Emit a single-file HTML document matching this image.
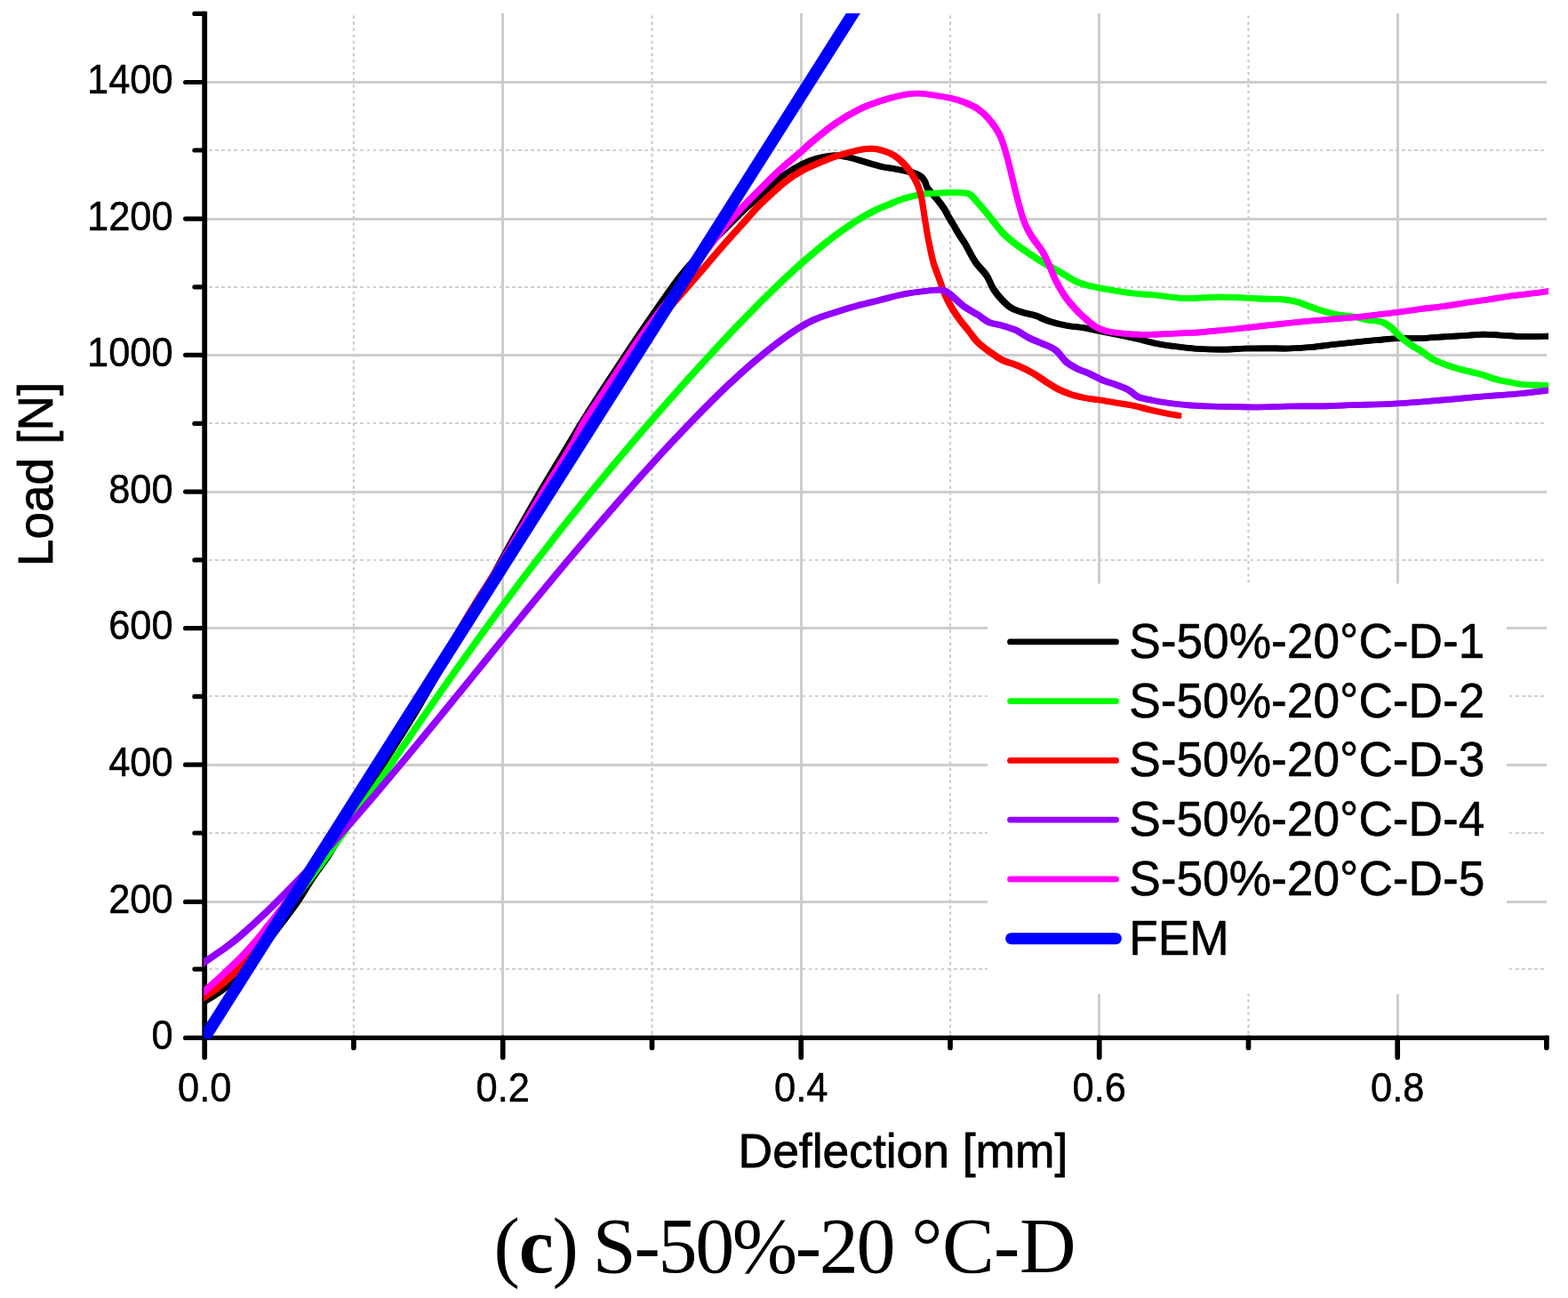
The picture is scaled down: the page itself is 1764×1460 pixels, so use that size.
<!DOCTYPE html>
<html lang="en"><head><meta charset="utf-8"><title>(c) S-50%-20 °C-D</title>
<style>
html,body{margin:0;padding:0;background:#fff;}
body{width:1764px;height:1460px;overflow:hidden;}
svg{display:block;}
.sans{font-family:"Liberation Sans",Arial,Helvetica,sans-serif;fill:#000;}
.serif{font-family:"Liberation Serif","Times New Roman",serif;fill:#000;}
</style></head><body>
<svg width="1764" height="1460" viewBox="0 0 1764 1460">
<rect x="0" y="0" width="1764" height="1460" fill="#ffffff"/>
<defs><clipPath id="plot"><rect x="229.0" y="15.0" width="1513.0" height="1153.5"/></clipPath></defs>
<g fill="none" stroke="#cdcdcd" shape-rendering="crispEdges">
<line x1="397.9" y1="17.5" x2="397.9" y2="1167.0" stroke-width="2.3" stroke-dasharray="3.4 3.65" stroke="#cecece" shape-rendering="auto"/>
<line x1="733.5" y1="17.5" x2="733.5" y2="1167.0" stroke-width="2.3" stroke-dasharray="3.4 3.65" stroke="#cecece" shape-rendering="auto"/>
<line x1="1069.0" y1="17.5" x2="1069.0" y2="1167.0" stroke-width="2.3" stroke-dasharray="3.4 3.65" stroke="#cecece" shape-rendering="auto"/>
<line x1="1404.5" y1="17.5" x2="1404.5" y2="1167.0" stroke-width="2.3" stroke-dasharray="3.4 3.65" stroke="#cecece" shape-rendering="auto"/>
<line x1="235.0" y1="1090.1" x2="1739.6" y2="1090.1" stroke-width="2.1" stroke-dasharray="3.8 3.3" stroke="#d0d0d0"/>
<line x1="235.0" y1="937.0" x2="1739.6" y2="937.0" stroke-width="2.1" stroke-dasharray="3.8 3.3" stroke="#d0d0d0"/>
<line x1="235.0" y1="783.4" x2="1739.6" y2="783.4" stroke-width="2.1" stroke-dasharray="3.8 3.3" stroke="#d0d0d0"/>
<line x1="235.0" y1="629.9" x2="1739.6" y2="629.9" stroke-width="2.1" stroke-dasharray="3.8 3.3" stroke="#d0d0d0"/>
<line x1="235.0" y1="476.4" x2="1739.6" y2="476.4" stroke-width="2.1" stroke-dasharray="3.8 3.3" stroke="#d0d0d0"/>
<line x1="235.0" y1="322.8" x2="1739.6" y2="322.8" stroke-width="2.1" stroke-dasharray="3.8 3.3" stroke="#d0d0d0"/>
<line x1="235.0" y1="169.0" x2="1739.6" y2="169.0" stroke-width="2.1" stroke-dasharray="3.8 3.3" stroke="#d0d0d0"/>
<line x1="565.7" y1="14.5" x2="565.7" y2="1167.0" stroke-width="3"/>
<line x1="901.2" y1="14.5" x2="901.2" y2="1167.0" stroke-width="3"/>
<line x1="1236.7" y1="14.5" x2="1236.7" y2="1167.0" stroke-width="3"/>
<line x1="1572.2" y1="14.5" x2="1572.2" y2="1167.0" stroke-width="3"/>
<line x1="232.0" y1="1014.4" x2="1739.6" y2="1014.4" stroke-width="3"/>
<line x1="232.0" y1="860.2" x2="1739.6" y2="860.2" stroke-width="3"/>
<line x1="232.0" y1="706.7" x2="1739.6" y2="706.7" stroke-width="3"/>
<line x1="232.0" y1="553.1" x2="1739.6" y2="553.1" stroke-width="3"/>
<line x1="232.0" y1="399.3" x2="1739.6" y2="399.3" stroke-width="3"/>
<line x1="232.0" y1="246.1" x2="1739.6" y2="246.1" stroke-width="3"/>
<line x1="232.0" y1="92.5" x2="1739.6" y2="92.5" stroke-width="3"/>
</g>
<rect x="1111" y="656.5" width="584" height="461.5" fill="#ffffff"/>
<g fill="none" stroke="#000" stroke-linecap="round">
<line x1="230.2" y1="1167.4" x2="230.2" y2="1189.2" stroke-width="5.7"/>
<line x1="397.9" y1="1167.4" x2="397.9" y2="1178.4" stroke-width="5.7"/>
<line x1="565.7" y1="1167.4" x2="565.7" y2="1189.2" stroke-width="5.7"/>
<line x1="733.5" y1="1167.4" x2="733.5" y2="1178.4" stroke-width="5.7"/>
<line x1="901.2" y1="1167.4" x2="901.2" y2="1189.2" stroke-width="5.7"/>
<line x1="1069.0" y1="1167.4" x2="1069.0" y2="1178.4" stroke-width="5.7"/>
<line x1="1236.7" y1="1167.4" x2="1236.7" y2="1189.2" stroke-width="5.7"/>
<line x1="1404.5" y1="1167.4" x2="1404.5" y2="1178.4" stroke-width="5.7"/>
<line x1="1572.2" y1="1167.4" x2="1572.2" y2="1189.2" stroke-width="5.7"/>
<line x1="1739.9" y1="1167.4" x2="1739.9" y2="1178.4" stroke-width="5.7"/>
<line x1="208.6" y1="1167.4" x2="230.2" y2="1167.4" stroke-width="5.2"/>
<line x1="218.9" y1="1090.1" x2="230.2" y2="1090.1" stroke-width="5.2"/>
<line x1="208.6" y1="1014.4" x2="230.2" y2="1014.4" stroke-width="5.2"/>
<line x1="218.9" y1="937.0" x2="230.2" y2="937.0" stroke-width="5.2"/>
<line x1="208.6" y1="860.2" x2="230.2" y2="860.2" stroke-width="5.2"/>
<line x1="218.9" y1="783.4" x2="230.2" y2="783.4" stroke-width="5.2"/>
<line x1="208.6" y1="706.7" x2="230.2" y2="706.7" stroke-width="5.2"/>
<line x1="218.9" y1="629.9" x2="230.2" y2="629.9" stroke-width="5.2"/>
<line x1="208.6" y1="553.1" x2="230.2" y2="553.1" stroke-width="5.2"/>
<line x1="218.9" y1="476.4" x2="230.2" y2="476.4" stroke-width="5.2"/>
<line x1="208.6" y1="399.3" x2="230.2" y2="399.3" stroke-width="5.2"/>
<line x1="218.9" y1="322.8" x2="230.2" y2="322.8" stroke-width="5.2"/>
<line x1="208.6" y1="246.1" x2="230.2" y2="246.1" stroke-width="5.2"/>
<line x1="218.9" y1="169.0" x2="230.2" y2="169.0" stroke-width="5.2"/>
<line x1="208.6" y1="92.5" x2="230.2" y2="92.5" stroke-width="5.2"/>
<line x1="218.9" y1="15.4" x2="230.2" y2="15.4" stroke-width="5.2"/>
</g>
<g fill="none" stroke="#000" stroke-linecap="butt">
<line x1="230.2" y1="12.8" x2="230.2" y2="1170" stroke-width="5.8"/>
<line x1="230.2" y1="1167.4" x2="1742.7" y2="1167.4" stroke-width="5.2"/>
</g>
<g clip-path="url(#plot)" fill="none" stroke-linejoin="round" stroke-linecap="round">
<g stroke="#000000" stroke-width="3.9">
<path transform="translate(-1.4 -1.4)" d="M226.0,1128.5C227.0,1128.0 228.0,1127.6 228.9,1127.0C234.5,1123.6 240.3,1120.4 245.7,1116.5C251.7,1112.2 257.5,1107.6 262.8,1102.5C270.6,1095.1 278.0,1087.2 285.0,1079.0C295.1,1067.1 304.4,1054.6 313.9,1042.2C320.9,1033.1 328.0,1023.9 334.5,1014.5C340.5,1005.7 345.7,996.3 351.6,987.4C357.8,978.1 364.9,969.5 370.8,960.0C387.7,932.7 403.3,904.5 420.0,877.0C435.7,851.2 452.5,825.9 468.0,800.0C483.8,773.6 498.7,746.7 514.0,720.0C521.7,706.7 529.5,693.4 537.0,680.0C547.2,661.8 556.8,643.2 567.0,625.0C580.4,601.1 593.9,577.2 607.7,553.5C618.2,535.5 629.1,517.8 639.8,500.0C644.5,492.1 649.1,484.1 654.0,476.2C661.5,464.1 669.2,452.0 677.0,440.0C687.9,423.3 698.9,406.6 710.0,390.0C719.5,375.8 729.2,361.6 739.0,347.5C747.8,334.9 756.4,322.1 766.0,310.0C773.5,300.6 781.7,291.8 790.0,283.0C798.1,274.4 806.7,266.3 815.0,258.0C821.7,251.3 828.2,244.5 835.0,238.0C840.9,232.4 847.0,227.1 853.0,221.6C858.0,217.1 862.8,212.3 868.0,208.0C873.1,203.8 878.3,199.7 883.8,196.0C889.8,192.0 896.0,188.2 902.5,185.0C908.1,182.2 913.9,179.7 920.0,178.1C926.5,176.3 933.2,175.0 940.0,174.8C945.1,174.6 950.1,175.8 955.0,177.0C963.4,179.0 971.7,181.8 980.0,184.2C984.3,185.4 988.5,186.8 992.8,187.7C997.1,188.6 1001.4,189.0 1005.7,189.8C1009.4,190.5 1013.1,191.2 1016.8,192.0C1020.5,192.8 1024.4,193.3 1028.0,194.5C1031.0,195.5 1034.0,196.8 1036.5,198.8C1038.4,200.3 1039.6,202.6 1040.8,204.8C1042.0,206.9 1042.1,209.5 1043.4,211.6C1044.8,213.8 1046.8,215.6 1048.5,217.6C1050.7,220.2 1053.2,222.6 1055.3,225.3C1057.7,228.4 1060.1,231.5 1062.2,234.8C1064.1,237.8 1065.5,241.1 1067.3,244.2C1069.0,247.1 1070.8,249.8 1072.5,252.7C1074.5,256.1 1076.4,259.6 1078.5,263.0C1080.7,266.5 1083.2,269.8 1085.3,273.3C1089.5,280.4 1092.9,288.1 1097.5,295.0C1101.1,300.4 1106.4,304.6 1110.0,310.0C1113.1,314.7 1114.5,320.3 1117.5,325.0C1120.4,329.5 1123.8,333.6 1127.5,337.5C1130.5,340.7 1133.7,343.9 1137.5,346.2C1141.3,348.6 1145.7,349.9 1150.0,351.2C1154.9,352.8 1160.1,353.4 1165.0,355.0C1170.1,356.7 1174.8,359.6 1180.0,361.2C1186.5,363.4 1193.2,365.0 1200.0,366.2C1206.6,367.5 1213.4,367.6 1220.0,368.8C1225.9,369.7 1231.7,371.3 1237.5,372.5C1245.8,374.2 1254.2,375.8 1262.5,377.5C1268.3,378.7 1274.2,379.9 1280.0,381.2C1286.7,382.8 1293.3,384.9 1300.0,386.2C1308.3,387.9 1316.6,389.0 1325.0,390.0C1333.3,391.0 1341.6,392.0 1350.0,392.5C1358.3,393.0 1366.7,393.3 1375.0,393.2C1383.3,393.2 1391.7,392.3 1400.0,392.0C1408.3,391.8 1416.7,391.8 1425.0,391.8C1433.3,391.8 1441.7,392.2 1450.0,392.0C1458.3,391.8 1466.7,391.2 1475.0,390.5C1483.4,389.7 1491.7,388.4 1500.0,387.5C1508.0,386.6 1516.0,385.8 1524.0,385.0C1532.3,384.1 1540.7,383.3 1549.0,382.5C1557.3,381.8 1565.6,380.8 1574.0,380.5C1582.3,380.2 1590.7,380.8 1599.0,380.5C1607.3,380.2 1615.7,379.3 1624.0,378.8C1632.3,378.3 1640.7,378.0 1649.0,377.5C1655.7,377.1 1662.3,376.3 1669.0,376.2C1674.8,376.2 1680.7,376.7 1686.5,377.0C1695.7,377.5 1704.8,378.3 1714.0,378.5C1724.7,378.7 1735.3,378.2 1746.0,378.0"/>
<path transform="translate(1.4 -1.4)" d="M226.0,1128.5C227.0,1128.0 228.0,1127.6 228.9,1127.0C234.5,1123.6 240.3,1120.4 245.7,1116.5C251.7,1112.2 257.5,1107.6 262.8,1102.5C270.6,1095.1 278.0,1087.2 285.0,1079.0C295.1,1067.1 304.4,1054.6 313.9,1042.2C320.9,1033.1 328.0,1023.9 334.5,1014.5C340.5,1005.7 345.7,996.3 351.6,987.4C357.8,978.1 364.9,969.5 370.8,960.0C387.7,932.7 403.3,904.5 420.0,877.0C435.7,851.2 452.5,825.9 468.0,800.0C483.8,773.6 498.7,746.7 514.0,720.0C521.7,706.7 529.5,693.4 537.0,680.0C547.2,661.8 556.8,643.2 567.0,625.0C580.4,601.1 593.9,577.2 607.7,553.5C618.2,535.5 629.1,517.8 639.8,500.0C644.5,492.1 649.1,484.1 654.0,476.2C661.5,464.1 669.2,452.0 677.0,440.0C687.9,423.3 698.9,406.6 710.0,390.0C719.5,375.8 729.2,361.6 739.0,347.5C747.8,334.9 756.4,322.1 766.0,310.0C773.5,300.6 781.7,291.8 790.0,283.0C798.1,274.4 806.7,266.3 815.0,258.0C821.7,251.3 828.2,244.5 835.0,238.0C840.9,232.4 847.0,227.1 853.0,221.6C858.0,217.1 862.8,212.3 868.0,208.0C873.1,203.8 878.3,199.7 883.8,196.0C889.8,192.0 896.0,188.2 902.5,185.0C908.1,182.2 913.9,179.7 920.0,178.1C926.5,176.3 933.2,175.0 940.0,174.8C945.1,174.6 950.1,175.8 955.0,177.0C963.4,179.0 971.7,181.8 980.0,184.2C984.3,185.4 988.5,186.8 992.8,187.7C997.1,188.6 1001.4,189.0 1005.7,189.8C1009.4,190.5 1013.1,191.2 1016.8,192.0C1020.5,192.8 1024.4,193.3 1028.0,194.5C1031.0,195.5 1034.0,196.8 1036.5,198.8C1038.4,200.3 1039.6,202.6 1040.8,204.8C1042.0,206.9 1042.1,209.5 1043.4,211.6C1044.8,213.8 1046.8,215.6 1048.5,217.6C1050.7,220.2 1053.2,222.6 1055.3,225.3C1057.7,228.4 1060.1,231.5 1062.2,234.8C1064.1,237.8 1065.5,241.1 1067.3,244.2C1069.0,247.1 1070.8,249.8 1072.5,252.7C1074.5,256.1 1076.4,259.6 1078.5,263.0C1080.7,266.5 1083.2,269.8 1085.3,273.3C1089.5,280.4 1092.9,288.1 1097.5,295.0C1101.1,300.4 1106.4,304.6 1110.0,310.0C1113.1,314.7 1114.5,320.3 1117.5,325.0C1120.4,329.5 1123.8,333.6 1127.5,337.5C1130.5,340.7 1133.7,343.9 1137.5,346.2C1141.3,348.6 1145.7,349.9 1150.0,351.2C1154.9,352.8 1160.1,353.4 1165.0,355.0C1170.1,356.7 1174.8,359.6 1180.0,361.2C1186.5,363.4 1193.2,365.0 1200.0,366.2C1206.6,367.5 1213.4,367.6 1220.0,368.8C1225.9,369.7 1231.7,371.3 1237.5,372.5C1245.8,374.2 1254.2,375.8 1262.5,377.5C1268.3,378.7 1274.2,379.9 1280.0,381.2C1286.7,382.8 1293.3,384.9 1300.0,386.2C1308.3,387.9 1316.6,389.0 1325.0,390.0C1333.3,391.0 1341.6,392.0 1350.0,392.5C1358.3,393.0 1366.7,393.3 1375.0,393.2C1383.3,393.2 1391.7,392.3 1400.0,392.0C1408.3,391.8 1416.7,391.8 1425.0,391.8C1433.3,391.8 1441.7,392.2 1450.0,392.0C1458.3,391.8 1466.7,391.2 1475.0,390.5C1483.4,389.7 1491.7,388.4 1500.0,387.5C1508.0,386.6 1516.0,385.8 1524.0,385.0C1532.3,384.1 1540.7,383.3 1549.0,382.5C1557.3,381.8 1565.6,380.8 1574.0,380.5C1582.3,380.2 1590.7,380.8 1599.0,380.5C1607.3,380.2 1615.7,379.3 1624.0,378.8C1632.3,378.3 1640.7,378.0 1649.0,377.5C1655.7,377.1 1662.3,376.3 1669.0,376.2C1674.8,376.2 1680.7,376.7 1686.5,377.0C1695.7,377.5 1704.8,378.3 1714.0,378.5C1724.7,378.7 1735.3,378.2 1746.0,378.0"/>
<path transform="translate(-1.4 1.4)" d="M226.0,1128.5C227.0,1128.0 228.0,1127.6 228.9,1127.0C234.5,1123.6 240.3,1120.4 245.7,1116.5C251.7,1112.2 257.5,1107.6 262.8,1102.5C270.6,1095.1 278.0,1087.2 285.0,1079.0C295.1,1067.1 304.4,1054.6 313.9,1042.2C320.9,1033.1 328.0,1023.9 334.5,1014.5C340.5,1005.7 345.7,996.3 351.6,987.4C357.8,978.1 364.9,969.5 370.8,960.0C387.7,932.7 403.3,904.5 420.0,877.0C435.7,851.2 452.5,825.9 468.0,800.0C483.8,773.6 498.7,746.7 514.0,720.0C521.7,706.7 529.5,693.4 537.0,680.0C547.2,661.8 556.8,643.2 567.0,625.0C580.4,601.1 593.9,577.2 607.7,553.5C618.2,535.5 629.1,517.8 639.8,500.0C644.5,492.1 649.1,484.1 654.0,476.2C661.5,464.1 669.2,452.0 677.0,440.0C687.9,423.3 698.9,406.6 710.0,390.0C719.5,375.8 729.2,361.6 739.0,347.5C747.8,334.9 756.4,322.1 766.0,310.0C773.5,300.6 781.7,291.8 790.0,283.0C798.1,274.4 806.7,266.3 815.0,258.0C821.7,251.3 828.2,244.5 835.0,238.0C840.9,232.4 847.0,227.1 853.0,221.6C858.0,217.1 862.8,212.3 868.0,208.0C873.1,203.8 878.3,199.7 883.8,196.0C889.8,192.0 896.0,188.2 902.5,185.0C908.1,182.2 913.9,179.7 920.0,178.1C926.5,176.3 933.2,175.0 940.0,174.8C945.1,174.6 950.1,175.8 955.0,177.0C963.4,179.0 971.7,181.8 980.0,184.2C984.3,185.4 988.5,186.8 992.8,187.7C997.1,188.6 1001.4,189.0 1005.7,189.8C1009.4,190.5 1013.1,191.2 1016.8,192.0C1020.5,192.8 1024.4,193.3 1028.0,194.5C1031.0,195.5 1034.0,196.8 1036.5,198.8C1038.4,200.3 1039.6,202.6 1040.8,204.8C1042.0,206.9 1042.1,209.5 1043.4,211.6C1044.8,213.8 1046.8,215.6 1048.5,217.6C1050.7,220.2 1053.2,222.6 1055.3,225.3C1057.7,228.4 1060.1,231.5 1062.2,234.8C1064.1,237.8 1065.5,241.1 1067.3,244.2C1069.0,247.1 1070.8,249.8 1072.5,252.7C1074.5,256.1 1076.4,259.6 1078.5,263.0C1080.7,266.5 1083.2,269.8 1085.3,273.3C1089.5,280.4 1092.9,288.1 1097.5,295.0C1101.1,300.4 1106.4,304.6 1110.0,310.0C1113.1,314.7 1114.5,320.3 1117.5,325.0C1120.4,329.5 1123.8,333.6 1127.5,337.5C1130.5,340.7 1133.7,343.9 1137.5,346.2C1141.3,348.6 1145.7,349.9 1150.0,351.2C1154.9,352.8 1160.1,353.4 1165.0,355.0C1170.1,356.7 1174.8,359.6 1180.0,361.2C1186.5,363.4 1193.2,365.0 1200.0,366.2C1206.6,367.5 1213.4,367.6 1220.0,368.8C1225.9,369.7 1231.7,371.3 1237.5,372.5C1245.8,374.2 1254.2,375.8 1262.5,377.5C1268.3,378.7 1274.2,379.9 1280.0,381.2C1286.7,382.8 1293.3,384.9 1300.0,386.2C1308.3,387.9 1316.6,389.0 1325.0,390.0C1333.3,391.0 1341.6,392.0 1350.0,392.5C1358.3,393.0 1366.7,393.3 1375.0,393.2C1383.3,393.2 1391.7,392.3 1400.0,392.0C1408.3,391.8 1416.7,391.8 1425.0,391.8C1433.3,391.8 1441.7,392.2 1450.0,392.0C1458.3,391.8 1466.7,391.2 1475.0,390.5C1483.4,389.7 1491.7,388.4 1500.0,387.5C1508.0,386.6 1516.0,385.8 1524.0,385.0C1532.3,384.1 1540.7,383.3 1549.0,382.5C1557.3,381.8 1565.6,380.8 1574.0,380.5C1582.3,380.2 1590.7,380.8 1599.0,380.5C1607.3,380.2 1615.7,379.3 1624.0,378.8C1632.3,378.3 1640.7,378.0 1649.0,377.5C1655.7,377.1 1662.3,376.3 1669.0,376.2C1674.8,376.2 1680.7,376.7 1686.5,377.0C1695.7,377.5 1704.8,378.3 1714.0,378.5C1724.7,378.7 1735.3,378.2 1746.0,378.0"/>
<path transform="translate(1.4 1.4)" d="M226.0,1128.5C227.0,1128.0 228.0,1127.6 228.9,1127.0C234.5,1123.6 240.3,1120.4 245.7,1116.5C251.7,1112.2 257.5,1107.6 262.8,1102.5C270.6,1095.1 278.0,1087.2 285.0,1079.0C295.1,1067.1 304.4,1054.6 313.9,1042.2C320.9,1033.1 328.0,1023.9 334.5,1014.5C340.5,1005.7 345.7,996.3 351.6,987.4C357.8,978.1 364.9,969.5 370.8,960.0C387.7,932.7 403.3,904.5 420.0,877.0C435.7,851.2 452.5,825.9 468.0,800.0C483.8,773.6 498.7,746.7 514.0,720.0C521.7,706.7 529.5,693.4 537.0,680.0C547.2,661.8 556.8,643.2 567.0,625.0C580.4,601.1 593.9,577.2 607.7,553.5C618.2,535.5 629.1,517.8 639.8,500.0C644.5,492.1 649.1,484.1 654.0,476.2C661.5,464.1 669.2,452.0 677.0,440.0C687.9,423.3 698.9,406.6 710.0,390.0C719.5,375.8 729.2,361.6 739.0,347.5C747.8,334.9 756.4,322.1 766.0,310.0C773.5,300.6 781.7,291.8 790.0,283.0C798.1,274.4 806.7,266.3 815.0,258.0C821.7,251.3 828.2,244.5 835.0,238.0C840.9,232.4 847.0,227.1 853.0,221.6C858.0,217.1 862.8,212.3 868.0,208.0C873.1,203.8 878.3,199.7 883.8,196.0C889.8,192.0 896.0,188.2 902.5,185.0C908.1,182.2 913.9,179.7 920.0,178.1C926.5,176.3 933.2,175.0 940.0,174.8C945.1,174.6 950.1,175.8 955.0,177.0C963.4,179.0 971.7,181.8 980.0,184.2C984.3,185.4 988.5,186.8 992.8,187.7C997.1,188.6 1001.4,189.0 1005.7,189.8C1009.4,190.5 1013.1,191.2 1016.8,192.0C1020.5,192.8 1024.4,193.3 1028.0,194.5C1031.0,195.5 1034.0,196.8 1036.5,198.8C1038.4,200.3 1039.6,202.6 1040.8,204.8C1042.0,206.9 1042.1,209.5 1043.4,211.6C1044.8,213.8 1046.8,215.6 1048.5,217.6C1050.7,220.2 1053.2,222.6 1055.3,225.3C1057.7,228.4 1060.1,231.5 1062.2,234.8C1064.1,237.8 1065.5,241.1 1067.3,244.2C1069.0,247.1 1070.8,249.8 1072.5,252.7C1074.5,256.1 1076.4,259.6 1078.5,263.0C1080.7,266.5 1083.2,269.8 1085.3,273.3C1089.5,280.4 1092.9,288.1 1097.5,295.0C1101.1,300.4 1106.4,304.6 1110.0,310.0C1113.1,314.7 1114.5,320.3 1117.5,325.0C1120.4,329.5 1123.8,333.6 1127.5,337.5C1130.5,340.7 1133.7,343.9 1137.5,346.2C1141.3,348.6 1145.7,349.9 1150.0,351.2C1154.9,352.8 1160.1,353.4 1165.0,355.0C1170.1,356.7 1174.8,359.6 1180.0,361.2C1186.5,363.4 1193.2,365.0 1200.0,366.2C1206.6,367.5 1213.4,367.6 1220.0,368.8C1225.9,369.7 1231.7,371.3 1237.5,372.5C1245.8,374.2 1254.2,375.8 1262.5,377.5C1268.3,378.7 1274.2,379.9 1280.0,381.2C1286.7,382.8 1293.3,384.9 1300.0,386.2C1308.3,387.9 1316.6,389.0 1325.0,390.0C1333.3,391.0 1341.6,392.0 1350.0,392.5C1358.3,393.0 1366.7,393.3 1375.0,393.2C1383.3,393.2 1391.7,392.3 1400.0,392.0C1408.3,391.8 1416.7,391.8 1425.0,391.8C1433.3,391.8 1441.7,392.2 1450.0,392.0C1458.3,391.8 1466.7,391.2 1475.0,390.5C1483.4,389.7 1491.7,388.4 1500.0,387.5C1508.0,386.6 1516.0,385.8 1524.0,385.0C1532.3,384.1 1540.7,383.3 1549.0,382.5C1557.3,381.8 1565.6,380.8 1574.0,380.5C1582.3,380.2 1590.7,380.8 1599.0,380.5C1607.3,380.2 1615.7,379.3 1624.0,378.8C1632.3,378.3 1640.7,378.0 1649.0,377.5C1655.7,377.1 1662.3,376.3 1669.0,376.2C1674.8,376.2 1680.7,376.7 1686.5,377.0C1695.7,377.5 1704.8,378.3 1714.0,378.5C1724.7,378.7 1735.3,378.2 1746.0,378.0"/>
</g>
<g stroke="#00ff00" stroke-width="3.9">
<path transform="translate(-1.4 -1.4)" d="M226.0,1123.0C227.0,1122.3 228.0,1121.7 229.0,1121.0C239.4,1113.4 250.4,1106.6 260.0,1098.0C270.9,1088.2 280.7,1077.3 290.0,1066.0C306.5,1045.8 321.5,1024.5 337.2,1003.7C345.5,992.7 354.0,981.7 362.2,970.6C370.7,959.1 379.0,947.5 387.2,935.8C395.6,923.9 403.9,911.9 412.2,899.9C420.6,887.8 428.9,875.6 437.2,863.5C445.5,851.3 453.8,839.1 462.2,826.9C470.5,814.8 478.8,802.7 487.2,790.6C495.5,778.6 503.8,766.7 512.2,754.8C520.5,743.1 528.8,731.4 537.2,719.8C545.5,708.3 553.8,696.9 562.2,685.5C570.5,674.3 578.8,663.1 587.2,652.0C595.5,641.1 603.8,630.3 612.2,619.5C620.5,608.9 628.8,598.2 637.2,587.7C645.5,577.3 653.8,567.0 662.2,556.7C670.5,546.6 678.8,536.5 687.2,526.5C695.5,516.6 703.8,506.7 712.2,496.9C720.5,487.2 728.8,477.6 737.2,468.0C745.5,458.5 753.8,449.0 762.2,439.6C770.5,430.3 778.8,421.1 787.2,411.9C795.5,402.8 803.8,393.8 812.2,384.8C820.5,376.0 828.8,367.3 837.2,358.6C845.5,350.1 853.8,341.6 862.2,333.3C870.4,325.2 878.7,317.1 887.2,309.3C895.4,301.7 903.7,294.2 912.2,287.0C920.4,280.0 928.6,273.2 937.2,266.7C945.3,260.6 953.6,254.7 962.2,249.2C969.7,244.4 977.5,240.0 985.5,236.0C990.2,233.6 995.2,232.0 1000.0,230.0C1005.4,227.8 1010.7,225.1 1016.3,223.4C1023.0,221.3 1029.9,219.8 1036.8,218.6C1040.7,217.9 1044.6,217.9 1048.5,217.6C1052.8,217.3 1057.0,217.0 1061.3,216.8C1065.6,216.6 1069.9,216.6 1074.2,216.6C1077.0,216.6 1079.9,216.6 1082.7,216.8C1084.7,216.9 1086.8,217.0 1088.7,217.6C1090.3,218.1 1091.8,219.1 1093.0,220.2C1095.5,222.5 1097.6,225.3 1099.9,227.9C1102.2,230.5 1104.5,233.0 1106.7,235.6C1109.1,238.4 1111.3,241.3 1113.6,244.2C1115.9,247.0 1118.1,249.9 1120.4,252.7C1123.5,256.5 1126.5,260.4 1130.0,263.9C1133.1,267.0 1136.5,269.8 1140.0,272.5C1145.7,276.9 1151.6,281.0 1157.5,285.0C1163.2,288.9 1169.1,292.7 1175.0,296.2C1181.6,300.2 1188.3,303.7 1195.0,307.5C1200.8,310.8 1206.3,314.9 1212.5,317.5C1218.1,319.9 1224.1,321.1 1230.0,322.5C1236.6,324.0 1243.3,325.1 1250.0,326.2C1258.3,327.6 1266.6,329.0 1275.0,330.0C1283.3,331.0 1291.7,331.2 1300.0,332.0C1310.0,333.0 1320.0,334.9 1330.0,335.5C1336.7,335.9 1343.3,335.2 1350.0,335.0C1358.0,334.8 1366.0,334.2 1374.0,334.2C1382.3,334.2 1390.7,334.7 1399.0,335.0C1407.3,335.3 1415.7,335.9 1424.0,336.2C1430.7,336.5 1437.4,336.1 1444.0,336.8C1449.1,337.2 1454.1,338.2 1459.0,339.5C1464.1,340.9 1469.0,343.2 1474.0,345.0C1479.0,346.7 1483.9,348.5 1489.0,350.0C1493.9,351.4 1498.9,352.8 1504.0,353.8C1510.6,354.9 1517.4,355.1 1524.0,356.2C1529.1,357.2 1533.9,359.0 1539.0,360.0C1544.0,360.9 1549.2,360.6 1554.0,362.0C1557.6,363.1 1561.0,365.2 1564.0,367.5C1567.7,370.4 1570.5,374.4 1574.0,377.5C1578.0,381.0 1582.1,384.4 1586.5,387.5C1590.5,390.3 1594.9,392.4 1599.0,395.0C1604.1,398.2 1608.7,402.2 1614.0,405.0C1619.6,407.9 1625.6,410.0 1631.5,412.0C1637.2,414.0 1643.1,415.4 1649.0,417.0C1654.8,418.5 1660.7,419.6 1666.5,421.2C1672.4,422.9 1678.1,425.4 1684.0,427.0C1688.9,428.3 1694.0,429.1 1699.0,430.0C1704.0,430.9 1709.0,432.0 1714.0,432.5C1719.0,433.0 1724.0,433.1 1729.0,433.2C1734.7,433.4 1740.3,433.2 1746.0,433.2"/>
<path transform="translate(1.4 -1.4)" d="M226.0,1123.0C227.0,1122.3 228.0,1121.7 229.0,1121.0C239.4,1113.4 250.4,1106.6 260.0,1098.0C270.9,1088.2 280.7,1077.3 290.0,1066.0C306.5,1045.8 321.5,1024.5 337.2,1003.7C345.5,992.7 354.0,981.7 362.2,970.6C370.7,959.1 379.0,947.5 387.2,935.8C395.6,923.9 403.9,911.9 412.2,899.9C420.6,887.8 428.9,875.6 437.2,863.5C445.5,851.3 453.8,839.1 462.2,826.9C470.5,814.8 478.8,802.7 487.2,790.6C495.5,778.6 503.8,766.7 512.2,754.8C520.5,743.1 528.8,731.4 537.2,719.8C545.5,708.3 553.8,696.9 562.2,685.5C570.5,674.3 578.8,663.1 587.2,652.0C595.5,641.1 603.8,630.3 612.2,619.5C620.5,608.9 628.8,598.2 637.2,587.7C645.5,577.3 653.8,567.0 662.2,556.7C670.5,546.6 678.8,536.5 687.2,526.5C695.5,516.6 703.8,506.7 712.2,496.9C720.5,487.2 728.8,477.6 737.2,468.0C745.5,458.5 753.8,449.0 762.2,439.6C770.5,430.3 778.8,421.1 787.2,411.9C795.5,402.8 803.8,393.8 812.2,384.8C820.5,376.0 828.8,367.3 837.2,358.6C845.5,350.1 853.8,341.6 862.2,333.3C870.4,325.2 878.7,317.1 887.2,309.3C895.4,301.7 903.7,294.2 912.2,287.0C920.4,280.0 928.6,273.2 937.2,266.7C945.3,260.6 953.6,254.7 962.2,249.2C969.7,244.4 977.5,240.0 985.5,236.0C990.2,233.6 995.2,232.0 1000.0,230.0C1005.4,227.8 1010.7,225.1 1016.3,223.4C1023.0,221.3 1029.9,219.8 1036.8,218.6C1040.7,217.9 1044.6,217.9 1048.5,217.6C1052.8,217.3 1057.0,217.0 1061.3,216.8C1065.6,216.6 1069.9,216.6 1074.2,216.6C1077.0,216.6 1079.9,216.6 1082.7,216.8C1084.7,216.9 1086.8,217.0 1088.7,217.6C1090.3,218.1 1091.8,219.1 1093.0,220.2C1095.5,222.5 1097.6,225.3 1099.9,227.9C1102.2,230.5 1104.5,233.0 1106.7,235.6C1109.1,238.4 1111.3,241.3 1113.6,244.2C1115.9,247.0 1118.1,249.9 1120.4,252.7C1123.5,256.5 1126.5,260.4 1130.0,263.9C1133.1,267.0 1136.5,269.8 1140.0,272.5C1145.7,276.9 1151.6,281.0 1157.5,285.0C1163.2,288.9 1169.1,292.7 1175.0,296.2C1181.6,300.2 1188.3,303.7 1195.0,307.5C1200.8,310.8 1206.3,314.9 1212.5,317.5C1218.1,319.9 1224.1,321.1 1230.0,322.5C1236.6,324.0 1243.3,325.1 1250.0,326.2C1258.3,327.6 1266.6,329.0 1275.0,330.0C1283.3,331.0 1291.7,331.2 1300.0,332.0C1310.0,333.0 1320.0,334.9 1330.0,335.5C1336.7,335.9 1343.3,335.2 1350.0,335.0C1358.0,334.8 1366.0,334.2 1374.0,334.2C1382.3,334.2 1390.7,334.7 1399.0,335.0C1407.3,335.3 1415.7,335.9 1424.0,336.2C1430.7,336.5 1437.4,336.1 1444.0,336.8C1449.1,337.2 1454.1,338.2 1459.0,339.5C1464.1,340.9 1469.0,343.2 1474.0,345.0C1479.0,346.7 1483.9,348.5 1489.0,350.0C1493.9,351.4 1498.9,352.8 1504.0,353.8C1510.6,354.9 1517.4,355.1 1524.0,356.2C1529.1,357.2 1533.9,359.0 1539.0,360.0C1544.0,360.9 1549.2,360.6 1554.0,362.0C1557.6,363.1 1561.0,365.2 1564.0,367.5C1567.7,370.4 1570.5,374.4 1574.0,377.5C1578.0,381.0 1582.1,384.4 1586.5,387.5C1590.5,390.3 1594.9,392.4 1599.0,395.0C1604.1,398.2 1608.7,402.2 1614.0,405.0C1619.6,407.9 1625.6,410.0 1631.5,412.0C1637.2,414.0 1643.1,415.4 1649.0,417.0C1654.8,418.5 1660.7,419.6 1666.5,421.2C1672.4,422.9 1678.1,425.4 1684.0,427.0C1688.9,428.3 1694.0,429.1 1699.0,430.0C1704.0,430.9 1709.0,432.0 1714.0,432.5C1719.0,433.0 1724.0,433.1 1729.0,433.2C1734.7,433.4 1740.3,433.2 1746.0,433.2"/>
<path transform="translate(-1.4 1.4)" d="M226.0,1123.0C227.0,1122.3 228.0,1121.7 229.0,1121.0C239.4,1113.4 250.4,1106.6 260.0,1098.0C270.9,1088.2 280.7,1077.3 290.0,1066.0C306.5,1045.8 321.5,1024.5 337.2,1003.7C345.5,992.7 354.0,981.7 362.2,970.6C370.7,959.1 379.0,947.5 387.2,935.8C395.6,923.9 403.9,911.9 412.2,899.9C420.6,887.8 428.9,875.6 437.2,863.5C445.5,851.3 453.8,839.1 462.2,826.9C470.5,814.8 478.8,802.7 487.2,790.6C495.5,778.6 503.8,766.7 512.2,754.8C520.5,743.1 528.8,731.4 537.2,719.8C545.5,708.3 553.8,696.9 562.2,685.5C570.5,674.3 578.8,663.1 587.2,652.0C595.5,641.1 603.8,630.3 612.2,619.5C620.5,608.9 628.8,598.2 637.2,587.7C645.5,577.3 653.8,567.0 662.2,556.7C670.5,546.6 678.8,536.5 687.2,526.5C695.5,516.6 703.8,506.7 712.2,496.9C720.5,487.2 728.8,477.6 737.2,468.0C745.5,458.5 753.8,449.0 762.2,439.6C770.5,430.3 778.8,421.1 787.2,411.9C795.5,402.8 803.8,393.8 812.2,384.8C820.5,376.0 828.8,367.3 837.2,358.6C845.5,350.1 853.8,341.6 862.2,333.3C870.4,325.2 878.7,317.1 887.2,309.3C895.4,301.7 903.7,294.2 912.2,287.0C920.4,280.0 928.6,273.2 937.2,266.7C945.3,260.6 953.6,254.7 962.2,249.2C969.7,244.4 977.5,240.0 985.5,236.0C990.2,233.6 995.2,232.0 1000.0,230.0C1005.4,227.8 1010.7,225.1 1016.3,223.4C1023.0,221.3 1029.9,219.8 1036.8,218.6C1040.7,217.9 1044.6,217.9 1048.5,217.6C1052.8,217.3 1057.0,217.0 1061.3,216.8C1065.6,216.6 1069.9,216.6 1074.2,216.6C1077.0,216.6 1079.9,216.6 1082.7,216.8C1084.7,216.9 1086.8,217.0 1088.7,217.6C1090.3,218.1 1091.8,219.1 1093.0,220.2C1095.5,222.5 1097.6,225.3 1099.9,227.9C1102.2,230.5 1104.5,233.0 1106.7,235.6C1109.1,238.4 1111.3,241.3 1113.6,244.2C1115.9,247.0 1118.1,249.9 1120.4,252.7C1123.5,256.5 1126.5,260.4 1130.0,263.9C1133.1,267.0 1136.5,269.8 1140.0,272.5C1145.7,276.9 1151.6,281.0 1157.5,285.0C1163.2,288.9 1169.1,292.7 1175.0,296.2C1181.6,300.2 1188.3,303.7 1195.0,307.5C1200.8,310.8 1206.3,314.9 1212.5,317.5C1218.1,319.9 1224.1,321.1 1230.0,322.5C1236.6,324.0 1243.3,325.1 1250.0,326.2C1258.3,327.6 1266.6,329.0 1275.0,330.0C1283.3,331.0 1291.7,331.2 1300.0,332.0C1310.0,333.0 1320.0,334.9 1330.0,335.5C1336.7,335.9 1343.3,335.2 1350.0,335.0C1358.0,334.8 1366.0,334.2 1374.0,334.2C1382.3,334.2 1390.7,334.7 1399.0,335.0C1407.3,335.3 1415.7,335.9 1424.0,336.2C1430.7,336.5 1437.4,336.1 1444.0,336.8C1449.1,337.2 1454.1,338.2 1459.0,339.5C1464.1,340.9 1469.0,343.2 1474.0,345.0C1479.0,346.7 1483.9,348.5 1489.0,350.0C1493.9,351.4 1498.9,352.8 1504.0,353.8C1510.6,354.9 1517.4,355.1 1524.0,356.2C1529.1,357.2 1533.9,359.0 1539.0,360.0C1544.0,360.9 1549.2,360.6 1554.0,362.0C1557.6,363.1 1561.0,365.2 1564.0,367.5C1567.7,370.4 1570.5,374.4 1574.0,377.5C1578.0,381.0 1582.1,384.4 1586.5,387.5C1590.5,390.3 1594.9,392.4 1599.0,395.0C1604.1,398.2 1608.7,402.2 1614.0,405.0C1619.6,407.9 1625.6,410.0 1631.5,412.0C1637.2,414.0 1643.1,415.4 1649.0,417.0C1654.8,418.5 1660.7,419.6 1666.5,421.2C1672.4,422.9 1678.1,425.4 1684.0,427.0C1688.9,428.3 1694.0,429.1 1699.0,430.0C1704.0,430.9 1709.0,432.0 1714.0,432.5C1719.0,433.0 1724.0,433.1 1729.0,433.2C1734.7,433.4 1740.3,433.2 1746.0,433.2"/>
<path transform="translate(1.4 1.4)" d="M226.0,1123.0C227.0,1122.3 228.0,1121.7 229.0,1121.0C239.4,1113.4 250.4,1106.6 260.0,1098.0C270.9,1088.2 280.7,1077.3 290.0,1066.0C306.5,1045.8 321.5,1024.5 337.2,1003.7C345.5,992.7 354.0,981.7 362.2,970.6C370.7,959.1 379.0,947.5 387.2,935.8C395.6,923.9 403.9,911.9 412.2,899.9C420.6,887.8 428.9,875.6 437.2,863.5C445.5,851.3 453.8,839.1 462.2,826.9C470.5,814.8 478.8,802.7 487.2,790.6C495.5,778.6 503.8,766.7 512.2,754.8C520.5,743.1 528.8,731.4 537.2,719.8C545.5,708.3 553.8,696.9 562.2,685.5C570.5,674.3 578.8,663.1 587.2,652.0C595.5,641.1 603.8,630.3 612.2,619.5C620.5,608.9 628.8,598.2 637.2,587.7C645.5,577.3 653.8,567.0 662.2,556.7C670.5,546.6 678.8,536.5 687.2,526.5C695.5,516.6 703.8,506.7 712.2,496.9C720.5,487.2 728.8,477.6 737.2,468.0C745.5,458.5 753.8,449.0 762.2,439.6C770.5,430.3 778.8,421.1 787.2,411.9C795.5,402.8 803.8,393.8 812.2,384.8C820.5,376.0 828.8,367.3 837.2,358.6C845.5,350.1 853.8,341.6 862.2,333.3C870.4,325.2 878.7,317.1 887.2,309.3C895.4,301.7 903.7,294.2 912.2,287.0C920.4,280.0 928.6,273.2 937.2,266.7C945.3,260.6 953.6,254.7 962.2,249.2C969.7,244.4 977.5,240.0 985.5,236.0C990.2,233.6 995.2,232.0 1000.0,230.0C1005.4,227.8 1010.7,225.1 1016.3,223.4C1023.0,221.3 1029.9,219.8 1036.8,218.6C1040.7,217.9 1044.6,217.9 1048.5,217.6C1052.8,217.3 1057.0,217.0 1061.3,216.8C1065.6,216.6 1069.9,216.6 1074.2,216.6C1077.0,216.6 1079.9,216.6 1082.7,216.8C1084.7,216.9 1086.8,217.0 1088.7,217.6C1090.3,218.1 1091.8,219.1 1093.0,220.2C1095.5,222.5 1097.6,225.3 1099.9,227.9C1102.2,230.5 1104.5,233.0 1106.7,235.6C1109.1,238.4 1111.3,241.3 1113.6,244.2C1115.9,247.0 1118.1,249.9 1120.4,252.7C1123.5,256.5 1126.5,260.4 1130.0,263.9C1133.1,267.0 1136.5,269.8 1140.0,272.5C1145.7,276.9 1151.6,281.0 1157.5,285.0C1163.2,288.9 1169.1,292.7 1175.0,296.2C1181.6,300.2 1188.3,303.7 1195.0,307.5C1200.8,310.8 1206.3,314.9 1212.5,317.5C1218.1,319.9 1224.1,321.1 1230.0,322.5C1236.6,324.0 1243.3,325.1 1250.0,326.2C1258.3,327.6 1266.6,329.0 1275.0,330.0C1283.3,331.0 1291.7,331.2 1300.0,332.0C1310.0,333.0 1320.0,334.9 1330.0,335.5C1336.7,335.9 1343.3,335.2 1350.0,335.0C1358.0,334.8 1366.0,334.2 1374.0,334.2C1382.3,334.2 1390.7,334.7 1399.0,335.0C1407.3,335.3 1415.7,335.9 1424.0,336.2C1430.7,336.5 1437.4,336.1 1444.0,336.8C1449.1,337.2 1454.1,338.2 1459.0,339.5C1464.1,340.9 1469.0,343.2 1474.0,345.0C1479.0,346.7 1483.9,348.5 1489.0,350.0C1493.9,351.4 1498.9,352.8 1504.0,353.8C1510.6,354.9 1517.4,355.1 1524.0,356.2C1529.1,357.2 1533.9,359.0 1539.0,360.0C1544.0,360.9 1549.2,360.6 1554.0,362.0C1557.6,363.1 1561.0,365.2 1564.0,367.5C1567.7,370.4 1570.5,374.4 1574.0,377.5C1578.0,381.0 1582.1,384.4 1586.5,387.5C1590.5,390.3 1594.9,392.4 1599.0,395.0C1604.1,398.2 1608.7,402.2 1614.0,405.0C1619.6,407.9 1625.6,410.0 1631.5,412.0C1637.2,414.0 1643.1,415.4 1649.0,417.0C1654.8,418.5 1660.7,419.6 1666.5,421.2C1672.4,422.9 1678.1,425.4 1684.0,427.0C1688.9,428.3 1694.0,429.1 1699.0,430.0C1704.0,430.9 1709.0,432.0 1714.0,432.5C1719.0,433.0 1724.0,433.1 1729.0,433.2C1734.7,433.4 1740.3,433.2 1746.0,433.2"/>
</g>
<g stroke="#ff0000" stroke-width="3.9">
<path transform="translate(-1.4 -1.4)" d="M226.0,1124.0C227.0,1123.3 228.0,1122.7 229.0,1122.0C234.3,1118.3 239.9,1115.0 245.0,1111.0C250.9,1106.3 256.5,1101.2 262.0,1096.0C268.2,1090.2 274.4,1084.4 280.0,1078.0C287.1,1070.0 293.7,1061.6 300.0,1053.0C310.4,1038.9 320.4,1024.6 330.0,1010.0C353.8,973.6 376.7,936.7 400.0,900.0C423.3,863.3 447.4,827.1 470.0,790.0C490.1,757.1 508.3,723.1 528.0,690.0C538.1,673.1 548.9,656.6 559.5,640.0C589.5,593.2 619.6,546.5 650.0,500.0C671.8,466.5 694.3,433.5 716.0,400.0C723.6,388.2 729.9,375.5 738.0,364.0C743.6,356.0 750.5,349.0 756.9,341.6C762.4,335.2 768.1,328.9 773.6,322.5C780.3,314.8 786.9,307.2 793.5,299.5C800.2,291.7 806.7,283.8 813.5,276.1C822.3,266.1 831.4,256.2 840.3,246.3C845.0,241.0 849.5,235.6 854.5,230.5C859.3,225.6 864.4,221.1 869.5,216.5C874.4,212.1 879.2,207.5 884.5,203.5C890.1,199.3 895.9,195.6 902.0,192.2C907.8,189.0 913.9,186.4 920.0,183.8C926.6,181.0 933.2,178.2 940.0,176.0C948.2,173.3 956.6,170.9 965.0,169.0C969.9,167.9 975.0,167.0 980.0,167.1C984.3,167.1 988.7,168.1 992.8,169.3C997.3,170.6 1001.7,172.4 1005.7,174.8C1009.5,177.1 1012.8,180.2 1016.0,183.4C1019.1,186.6 1022.0,190.0 1024.5,193.7C1027.1,197.5 1029.5,201.5 1031.4,205.7C1033.3,209.8 1034.5,214.1 1035.7,218.5C1036.8,222.7 1037.5,227.0 1038.2,231.3C1039.0,236.2 1039.6,241.0 1040.4,245.9C1041.2,251.0 1042.0,256.2 1042.9,261.3C1043.7,265.9 1044.5,270.5 1045.5,275.0C1046.9,281.7 1048.1,288.4 1050.0,295.0C1051.7,301.0 1054.2,306.7 1056.2,312.5C1058.3,318.3 1060.1,324.3 1062.5,330.0C1064.7,335.1 1067.2,340.2 1070.0,345.0C1073.0,350.2 1076.5,355.1 1080.0,360.0C1083.1,364.3 1086.7,368.3 1090.0,372.5C1093.3,376.7 1096.2,381.2 1100.0,385.0C1103.8,388.8 1108.2,391.9 1112.5,395.0C1117.4,398.5 1122.1,402.3 1127.5,405.0C1133.0,407.8 1139.3,408.8 1145.0,411.2C1151.0,413.8 1156.9,416.7 1162.5,420.0C1167.7,423.0 1172.4,426.8 1177.5,430.0C1181.6,432.6 1185.7,435.3 1190.0,437.5C1194.8,439.9 1199.9,442.0 1205.0,443.8C1209.9,445.4 1214.9,446.5 1220.0,447.5C1225.8,448.6 1231.7,449.1 1237.5,450.0C1243.3,450.9 1249.2,452.0 1255.0,453.0C1261.7,454.1 1268.4,454.9 1275.0,456.2C1281.7,457.6 1288.3,459.7 1295.0,461.2C1300.8,462.6 1306.7,463.8 1312.5,465.0C1317.1,465.9 1321.7,466.7 1326.2,467.5"/>
<path transform="translate(1.4 -1.4)" d="M226.0,1124.0C227.0,1123.3 228.0,1122.7 229.0,1122.0C234.3,1118.3 239.9,1115.0 245.0,1111.0C250.9,1106.3 256.5,1101.2 262.0,1096.0C268.2,1090.2 274.4,1084.4 280.0,1078.0C287.1,1070.0 293.7,1061.6 300.0,1053.0C310.4,1038.9 320.4,1024.6 330.0,1010.0C353.8,973.6 376.7,936.7 400.0,900.0C423.3,863.3 447.4,827.1 470.0,790.0C490.1,757.1 508.3,723.1 528.0,690.0C538.1,673.1 548.9,656.6 559.5,640.0C589.5,593.2 619.6,546.5 650.0,500.0C671.8,466.5 694.3,433.5 716.0,400.0C723.6,388.2 729.9,375.5 738.0,364.0C743.6,356.0 750.5,349.0 756.9,341.6C762.4,335.2 768.1,328.9 773.6,322.5C780.3,314.8 786.9,307.2 793.5,299.5C800.2,291.7 806.7,283.8 813.5,276.1C822.3,266.1 831.4,256.2 840.3,246.3C845.0,241.0 849.5,235.6 854.5,230.5C859.3,225.6 864.4,221.1 869.5,216.5C874.4,212.1 879.2,207.5 884.5,203.5C890.1,199.3 895.9,195.6 902.0,192.2C907.8,189.0 913.9,186.4 920.0,183.8C926.6,181.0 933.2,178.2 940.0,176.0C948.2,173.3 956.6,170.9 965.0,169.0C969.9,167.9 975.0,167.0 980.0,167.1C984.3,167.1 988.7,168.1 992.8,169.3C997.3,170.6 1001.7,172.4 1005.7,174.8C1009.5,177.1 1012.8,180.2 1016.0,183.4C1019.1,186.6 1022.0,190.0 1024.5,193.7C1027.1,197.5 1029.5,201.5 1031.4,205.7C1033.3,209.8 1034.5,214.1 1035.7,218.5C1036.8,222.7 1037.5,227.0 1038.2,231.3C1039.0,236.2 1039.6,241.0 1040.4,245.9C1041.2,251.0 1042.0,256.2 1042.9,261.3C1043.7,265.9 1044.5,270.5 1045.5,275.0C1046.9,281.7 1048.1,288.4 1050.0,295.0C1051.7,301.0 1054.2,306.7 1056.2,312.5C1058.3,318.3 1060.1,324.3 1062.5,330.0C1064.7,335.1 1067.2,340.2 1070.0,345.0C1073.0,350.2 1076.5,355.1 1080.0,360.0C1083.1,364.3 1086.7,368.3 1090.0,372.5C1093.3,376.7 1096.2,381.2 1100.0,385.0C1103.8,388.8 1108.2,391.9 1112.5,395.0C1117.4,398.5 1122.1,402.3 1127.5,405.0C1133.0,407.8 1139.3,408.8 1145.0,411.2C1151.0,413.8 1156.9,416.7 1162.5,420.0C1167.7,423.0 1172.4,426.8 1177.5,430.0C1181.6,432.6 1185.7,435.3 1190.0,437.5C1194.8,439.9 1199.9,442.0 1205.0,443.8C1209.9,445.4 1214.9,446.5 1220.0,447.5C1225.8,448.6 1231.7,449.1 1237.5,450.0C1243.3,450.9 1249.2,452.0 1255.0,453.0C1261.7,454.1 1268.4,454.9 1275.0,456.2C1281.7,457.6 1288.3,459.7 1295.0,461.2C1300.8,462.6 1306.7,463.8 1312.5,465.0C1317.1,465.9 1321.7,466.7 1326.2,467.5"/>
<path transform="translate(-1.4 1.4)" d="M226.0,1124.0C227.0,1123.3 228.0,1122.7 229.0,1122.0C234.3,1118.3 239.9,1115.0 245.0,1111.0C250.9,1106.3 256.5,1101.2 262.0,1096.0C268.2,1090.2 274.4,1084.4 280.0,1078.0C287.1,1070.0 293.7,1061.6 300.0,1053.0C310.4,1038.9 320.4,1024.6 330.0,1010.0C353.8,973.6 376.7,936.7 400.0,900.0C423.3,863.3 447.4,827.1 470.0,790.0C490.1,757.1 508.3,723.1 528.0,690.0C538.1,673.1 548.9,656.6 559.5,640.0C589.5,593.2 619.6,546.5 650.0,500.0C671.8,466.5 694.3,433.5 716.0,400.0C723.6,388.2 729.9,375.5 738.0,364.0C743.6,356.0 750.5,349.0 756.9,341.6C762.4,335.2 768.1,328.9 773.6,322.5C780.3,314.8 786.9,307.2 793.5,299.5C800.2,291.7 806.7,283.8 813.5,276.1C822.3,266.1 831.4,256.2 840.3,246.3C845.0,241.0 849.5,235.6 854.5,230.5C859.3,225.6 864.4,221.1 869.5,216.5C874.4,212.1 879.2,207.5 884.5,203.5C890.1,199.3 895.9,195.6 902.0,192.2C907.8,189.0 913.9,186.4 920.0,183.8C926.6,181.0 933.2,178.2 940.0,176.0C948.2,173.3 956.6,170.9 965.0,169.0C969.9,167.9 975.0,167.0 980.0,167.1C984.3,167.1 988.7,168.1 992.8,169.3C997.3,170.6 1001.7,172.4 1005.7,174.8C1009.5,177.1 1012.8,180.2 1016.0,183.4C1019.1,186.6 1022.0,190.0 1024.5,193.7C1027.1,197.5 1029.5,201.5 1031.4,205.7C1033.3,209.8 1034.5,214.1 1035.7,218.5C1036.8,222.7 1037.5,227.0 1038.2,231.3C1039.0,236.2 1039.6,241.0 1040.4,245.9C1041.2,251.0 1042.0,256.2 1042.9,261.3C1043.7,265.9 1044.5,270.5 1045.5,275.0C1046.9,281.7 1048.1,288.4 1050.0,295.0C1051.7,301.0 1054.2,306.7 1056.2,312.5C1058.3,318.3 1060.1,324.3 1062.5,330.0C1064.7,335.1 1067.2,340.2 1070.0,345.0C1073.0,350.2 1076.5,355.1 1080.0,360.0C1083.1,364.3 1086.7,368.3 1090.0,372.5C1093.3,376.7 1096.2,381.2 1100.0,385.0C1103.8,388.8 1108.2,391.9 1112.5,395.0C1117.4,398.5 1122.1,402.3 1127.5,405.0C1133.0,407.8 1139.3,408.8 1145.0,411.2C1151.0,413.8 1156.9,416.7 1162.5,420.0C1167.7,423.0 1172.4,426.8 1177.5,430.0C1181.6,432.6 1185.7,435.3 1190.0,437.5C1194.8,439.9 1199.9,442.0 1205.0,443.8C1209.9,445.4 1214.9,446.5 1220.0,447.5C1225.8,448.6 1231.7,449.1 1237.5,450.0C1243.3,450.9 1249.2,452.0 1255.0,453.0C1261.7,454.1 1268.4,454.9 1275.0,456.2C1281.7,457.6 1288.3,459.7 1295.0,461.2C1300.8,462.6 1306.7,463.8 1312.5,465.0C1317.1,465.9 1321.7,466.7 1326.2,467.5"/>
<path transform="translate(1.4 1.4)" d="M226.0,1124.0C227.0,1123.3 228.0,1122.7 229.0,1122.0C234.3,1118.3 239.9,1115.0 245.0,1111.0C250.9,1106.3 256.5,1101.2 262.0,1096.0C268.2,1090.2 274.4,1084.4 280.0,1078.0C287.1,1070.0 293.7,1061.6 300.0,1053.0C310.4,1038.9 320.4,1024.6 330.0,1010.0C353.8,973.6 376.7,936.7 400.0,900.0C423.3,863.3 447.4,827.1 470.0,790.0C490.1,757.1 508.3,723.1 528.0,690.0C538.1,673.1 548.9,656.6 559.5,640.0C589.5,593.2 619.6,546.5 650.0,500.0C671.8,466.5 694.3,433.5 716.0,400.0C723.6,388.2 729.9,375.5 738.0,364.0C743.6,356.0 750.5,349.0 756.9,341.6C762.4,335.2 768.1,328.9 773.6,322.5C780.3,314.8 786.9,307.2 793.5,299.5C800.2,291.7 806.7,283.8 813.5,276.1C822.3,266.1 831.4,256.2 840.3,246.3C845.0,241.0 849.5,235.6 854.5,230.5C859.3,225.6 864.4,221.1 869.5,216.5C874.4,212.1 879.2,207.5 884.5,203.5C890.1,199.3 895.9,195.6 902.0,192.2C907.8,189.0 913.9,186.4 920.0,183.8C926.6,181.0 933.2,178.2 940.0,176.0C948.2,173.3 956.6,170.9 965.0,169.0C969.9,167.9 975.0,167.0 980.0,167.1C984.3,167.1 988.7,168.1 992.8,169.3C997.3,170.6 1001.7,172.4 1005.7,174.8C1009.5,177.1 1012.8,180.2 1016.0,183.4C1019.1,186.6 1022.0,190.0 1024.5,193.7C1027.1,197.5 1029.5,201.5 1031.4,205.7C1033.3,209.8 1034.5,214.1 1035.7,218.5C1036.8,222.7 1037.5,227.0 1038.2,231.3C1039.0,236.2 1039.6,241.0 1040.4,245.9C1041.2,251.0 1042.0,256.2 1042.9,261.3C1043.7,265.9 1044.5,270.5 1045.5,275.0C1046.9,281.7 1048.1,288.4 1050.0,295.0C1051.7,301.0 1054.2,306.7 1056.2,312.5C1058.3,318.3 1060.1,324.3 1062.5,330.0C1064.7,335.1 1067.2,340.2 1070.0,345.0C1073.0,350.2 1076.5,355.1 1080.0,360.0C1083.1,364.3 1086.7,368.3 1090.0,372.5C1093.3,376.7 1096.2,381.2 1100.0,385.0C1103.8,388.8 1108.2,391.9 1112.5,395.0C1117.4,398.5 1122.1,402.3 1127.5,405.0C1133.0,407.8 1139.3,408.8 1145.0,411.2C1151.0,413.8 1156.9,416.7 1162.5,420.0C1167.7,423.0 1172.4,426.8 1177.5,430.0C1181.6,432.6 1185.7,435.3 1190.0,437.5C1194.8,439.9 1199.9,442.0 1205.0,443.8C1209.9,445.4 1214.9,446.5 1220.0,447.5C1225.8,448.6 1231.7,449.1 1237.5,450.0C1243.3,450.9 1249.2,452.0 1255.0,453.0C1261.7,454.1 1268.4,454.9 1275.0,456.2C1281.7,457.6 1288.3,459.7 1295.0,461.2C1300.8,462.6 1306.7,463.8 1312.5,465.0C1317.1,465.9 1321.7,466.7 1326.2,467.5"/>
</g>
<g stroke="#9400ff" stroke-width="3.9">
<path transform="translate(-1.4 -1.4)" d="M226.0,1085.5C227.0,1084.7 227.9,1083.7 228.9,1083.0C237.3,1077.1 245.9,1071.5 254.2,1065.5C259.6,1061.5 264.9,1057.4 270.0,1053.0C279.3,1044.9 288.4,1036.6 297.4,1028.1C305.9,1020.0 314.2,1011.7 322.4,1003.3C330.8,994.8 339.2,986.1 347.4,977.4C355.8,968.5 364.1,959.4 372.4,950.3C380.8,941.0 389.1,931.7 397.4,922.3C405.8,912.7 414.1,903.0 422.4,893.3C430.8,883.5 439.1,873.6 447.4,863.7C455.8,853.7 464.1,843.6 472.4,833.5C480.8,823.4 489.1,813.2 497.4,803.0C505.7,792.8 514.1,782.5 522.4,772.3C530.7,762.0 539.1,751.8 547.4,741.5C555.7,731.3 564.1,721.1 572.4,710.9C580.7,700.7 589.0,690.5 597.4,680.4C605.7,670.3 614.0,660.2 622.4,650.2C630.7,640.2 639.0,630.3 647.4,620.4C655.7,610.6 664.0,600.8 672.4,591.0C680.7,581.4 689.0,571.8 697.4,562.2C705.7,552.8 714.0,543.3 722.4,534.0C730.7,524.8 739.0,515.6 747.4,506.5C755.7,497.6 764.0,488.8 772.4,480.0C780.7,471.4 788.9,462.8 797.4,454.4C805.6,446.2 813.9,438.1 822.4,430.2C830.6,422.5 838.9,415.0 847.4,407.7C855.6,400.7 863.9,393.9 872.4,387.4C880.5,381.2 888.8,375.2 897.4,369.7C903.0,366.1 908.9,362.7 915.0,360.0C923.1,356.5 931.6,354.0 940.0,351.2C948.3,348.6 956.6,346.1 965.0,343.8C973.3,341.5 981.7,339.6 990.0,337.5C998.3,335.4 1006.6,332.9 1015.0,331.2C1023.3,329.6 1031.6,328.4 1040.0,327.5C1046.6,326.8 1053.3,325.6 1060.0,326.2C1062.8,326.5 1065.3,328.3 1067.5,330.0C1073.6,334.6 1078.8,340.4 1085.0,345.0C1089.7,348.5 1095.1,350.9 1100.0,354.0C1104.3,356.7 1107.9,360.4 1112.5,362.5C1117.2,364.6 1122.6,364.8 1127.5,366.2C1132.6,367.7 1137.7,369.1 1142.5,371.2C1147.8,373.7 1152.3,377.4 1157.5,380.0C1163.2,382.8 1169.2,384.9 1175.0,387.5C1179.2,389.4 1183.9,390.8 1187.5,393.8C1192.3,397.6 1195.3,403.5 1200.0,407.5C1203.7,410.6 1208.2,412.8 1212.5,415.0C1216.5,417.0 1220.9,418.1 1225.0,420.0C1230.1,422.3 1234.8,425.3 1240.0,427.5C1244.9,429.5 1250.1,430.6 1255.0,432.5C1260.1,434.4 1265.3,436.1 1270.0,438.8C1273.7,440.8 1276.2,444.5 1280.0,446.2C1284.7,448.4 1290.0,449.0 1295.0,450.0C1300.8,451.2 1306.6,452.2 1312.5,453.0C1320.8,454.1 1329.1,455.1 1337.5,455.8C1345.8,456.4 1354.2,456.7 1362.5,457.0C1370.8,457.3 1379.2,457.3 1387.5,457.5C1395.8,457.7 1404.2,458.1 1412.5,458.0C1424.7,457.9 1436.8,457.2 1449.0,457.0C1461.5,456.8 1474.0,457.0 1486.5,456.8C1499.0,456.5 1511.5,455.9 1524.0,455.5C1536.5,455.1 1549.0,455.1 1561.5,454.5C1574.0,453.9 1586.5,453.0 1599.0,452.0C1611.5,451.0 1624.0,449.8 1636.5,448.8C1649.0,447.7 1661.5,446.5 1674.0,445.5C1686.5,444.5 1699.0,443.7 1711.5,442.5C1723.0,441.4 1734.5,439.8 1746.0,438.5"/>
<path transform="translate(1.4 -1.4)" d="M226.0,1085.5C227.0,1084.7 227.9,1083.7 228.9,1083.0C237.3,1077.1 245.9,1071.5 254.2,1065.5C259.6,1061.5 264.9,1057.4 270.0,1053.0C279.3,1044.9 288.4,1036.6 297.4,1028.1C305.9,1020.0 314.2,1011.7 322.4,1003.3C330.8,994.8 339.2,986.1 347.4,977.4C355.8,968.5 364.1,959.4 372.4,950.3C380.8,941.0 389.1,931.7 397.4,922.3C405.8,912.7 414.1,903.0 422.4,893.3C430.8,883.5 439.1,873.6 447.4,863.7C455.8,853.7 464.1,843.6 472.4,833.5C480.8,823.4 489.1,813.2 497.4,803.0C505.7,792.8 514.1,782.5 522.4,772.3C530.7,762.0 539.1,751.8 547.4,741.5C555.7,731.3 564.1,721.1 572.4,710.9C580.7,700.7 589.0,690.5 597.4,680.4C605.7,670.3 614.0,660.2 622.4,650.2C630.7,640.2 639.0,630.3 647.4,620.4C655.7,610.6 664.0,600.8 672.4,591.0C680.7,581.4 689.0,571.8 697.4,562.2C705.7,552.8 714.0,543.3 722.4,534.0C730.7,524.8 739.0,515.6 747.4,506.5C755.7,497.6 764.0,488.8 772.4,480.0C780.7,471.4 788.9,462.8 797.4,454.4C805.6,446.2 813.9,438.1 822.4,430.2C830.6,422.5 838.9,415.0 847.4,407.7C855.6,400.7 863.9,393.9 872.4,387.4C880.5,381.2 888.8,375.2 897.4,369.7C903.0,366.1 908.9,362.7 915.0,360.0C923.1,356.5 931.6,354.0 940.0,351.2C948.3,348.6 956.6,346.1 965.0,343.8C973.3,341.5 981.7,339.6 990.0,337.5C998.3,335.4 1006.6,332.9 1015.0,331.2C1023.3,329.6 1031.6,328.4 1040.0,327.5C1046.6,326.8 1053.3,325.6 1060.0,326.2C1062.8,326.5 1065.3,328.3 1067.5,330.0C1073.6,334.6 1078.8,340.4 1085.0,345.0C1089.7,348.5 1095.1,350.9 1100.0,354.0C1104.3,356.7 1107.9,360.4 1112.5,362.5C1117.2,364.6 1122.6,364.8 1127.5,366.2C1132.6,367.7 1137.7,369.1 1142.5,371.2C1147.8,373.7 1152.3,377.4 1157.5,380.0C1163.2,382.8 1169.2,384.9 1175.0,387.5C1179.2,389.4 1183.9,390.8 1187.5,393.8C1192.3,397.6 1195.3,403.5 1200.0,407.5C1203.7,410.6 1208.2,412.8 1212.5,415.0C1216.5,417.0 1220.9,418.1 1225.0,420.0C1230.1,422.3 1234.8,425.3 1240.0,427.5C1244.9,429.5 1250.1,430.6 1255.0,432.5C1260.1,434.4 1265.3,436.1 1270.0,438.8C1273.7,440.8 1276.2,444.5 1280.0,446.2C1284.7,448.4 1290.0,449.0 1295.0,450.0C1300.8,451.2 1306.6,452.2 1312.5,453.0C1320.8,454.1 1329.1,455.1 1337.5,455.8C1345.8,456.4 1354.2,456.7 1362.5,457.0C1370.8,457.3 1379.2,457.3 1387.5,457.5C1395.8,457.7 1404.2,458.1 1412.5,458.0C1424.7,457.9 1436.8,457.2 1449.0,457.0C1461.5,456.8 1474.0,457.0 1486.5,456.8C1499.0,456.5 1511.5,455.9 1524.0,455.5C1536.5,455.1 1549.0,455.1 1561.5,454.5C1574.0,453.9 1586.5,453.0 1599.0,452.0C1611.5,451.0 1624.0,449.8 1636.5,448.8C1649.0,447.7 1661.5,446.5 1674.0,445.5C1686.5,444.5 1699.0,443.7 1711.5,442.5C1723.0,441.4 1734.5,439.8 1746.0,438.5"/>
<path transform="translate(-1.4 1.4)" d="M226.0,1085.5C227.0,1084.7 227.9,1083.7 228.9,1083.0C237.3,1077.1 245.9,1071.5 254.2,1065.5C259.6,1061.5 264.9,1057.4 270.0,1053.0C279.3,1044.9 288.4,1036.6 297.4,1028.1C305.9,1020.0 314.2,1011.7 322.4,1003.3C330.8,994.8 339.2,986.1 347.4,977.4C355.8,968.5 364.1,959.4 372.4,950.3C380.8,941.0 389.1,931.7 397.4,922.3C405.8,912.7 414.1,903.0 422.4,893.3C430.8,883.5 439.1,873.6 447.4,863.7C455.8,853.7 464.1,843.6 472.4,833.5C480.8,823.4 489.1,813.2 497.4,803.0C505.7,792.8 514.1,782.5 522.4,772.3C530.7,762.0 539.1,751.8 547.4,741.5C555.7,731.3 564.1,721.1 572.4,710.9C580.7,700.7 589.0,690.5 597.4,680.4C605.7,670.3 614.0,660.2 622.4,650.2C630.7,640.2 639.0,630.3 647.4,620.4C655.7,610.6 664.0,600.8 672.4,591.0C680.7,581.4 689.0,571.8 697.4,562.2C705.7,552.8 714.0,543.3 722.4,534.0C730.7,524.8 739.0,515.6 747.4,506.5C755.7,497.6 764.0,488.8 772.4,480.0C780.7,471.4 788.9,462.8 797.4,454.4C805.6,446.2 813.9,438.1 822.4,430.2C830.6,422.5 838.9,415.0 847.4,407.7C855.6,400.7 863.9,393.9 872.4,387.4C880.5,381.2 888.8,375.2 897.4,369.7C903.0,366.1 908.9,362.7 915.0,360.0C923.1,356.5 931.6,354.0 940.0,351.2C948.3,348.6 956.6,346.1 965.0,343.8C973.3,341.5 981.7,339.6 990.0,337.5C998.3,335.4 1006.6,332.9 1015.0,331.2C1023.3,329.6 1031.6,328.4 1040.0,327.5C1046.6,326.8 1053.3,325.6 1060.0,326.2C1062.8,326.5 1065.3,328.3 1067.5,330.0C1073.6,334.6 1078.8,340.4 1085.0,345.0C1089.7,348.5 1095.1,350.9 1100.0,354.0C1104.3,356.7 1107.9,360.4 1112.5,362.5C1117.2,364.6 1122.6,364.8 1127.5,366.2C1132.6,367.7 1137.7,369.1 1142.5,371.2C1147.8,373.7 1152.3,377.4 1157.5,380.0C1163.2,382.8 1169.2,384.9 1175.0,387.5C1179.2,389.4 1183.9,390.8 1187.5,393.8C1192.3,397.6 1195.3,403.5 1200.0,407.5C1203.7,410.6 1208.2,412.8 1212.5,415.0C1216.5,417.0 1220.9,418.1 1225.0,420.0C1230.1,422.3 1234.8,425.3 1240.0,427.5C1244.9,429.5 1250.1,430.6 1255.0,432.5C1260.1,434.4 1265.3,436.1 1270.0,438.8C1273.7,440.8 1276.2,444.5 1280.0,446.2C1284.7,448.4 1290.0,449.0 1295.0,450.0C1300.8,451.2 1306.6,452.2 1312.5,453.0C1320.8,454.1 1329.1,455.1 1337.5,455.8C1345.8,456.4 1354.2,456.7 1362.5,457.0C1370.8,457.3 1379.2,457.3 1387.5,457.5C1395.8,457.7 1404.2,458.1 1412.5,458.0C1424.7,457.9 1436.8,457.2 1449.0,457.0C1461.5,456.8 1474.0,457.0 1486.5,456.8C1499.0,456.5 1511.5,455.9 1524.0,455.5C1536.5,455.1 1549.0,455.1 1561.5,454.5C1574.0,453.9 1586.5,453.0 1599.0,452.0C1611.5,451.0 1624.0,449.8 1636.5,448.8C1649.0,447.7 1661.5,446.5 1674.0,445.5C1686.5,444.5 1699.0,443.7 1711.5,442.5C1723.0,441.4 1734.5,439.8 1746.0,438.5"/>
<path transform="translate(1.4 1.4)" d="M226.0,1085.5C227.0,1084.7 227.9,1083.7 228.9,1083.0C237.3,1077.1 245.9,1071.5 254.2,1065.5C259.6,1061.5 264.9,1057.4 270.0,1053.0C279.3,1044.9 288.4,1036.6 297.4,1028.1C305.9,1020.0 314.2,1011.7 322.4,1003.3C330.8,994.8 339.2,986.1 347.4,977.4C355.8,968.5 364.1,959.4 372.4,950.3C380.8,941.0 389.1,931.7 397.4,922.3C405.8,912.7 414.1,903.0 422.4,893.3C430.8,883.5 439.1,873.6 447.4,863.7C455.8,853.7 464.1,843.6 472.4,833.5C480.8,823.4 489.1,813.2 497.4,803.0C505.7,792.8 514.1,782.5 522.4,772.3C530.7,762.0 539.1,751.8 547.4,741.5C555.7,731.3 564.1,721.1 572.4,710.9C580.7,700.7 589.0,690.5 597.4,680.4C605.7,670.3 614.0,660.2 622.4,650.2C630.7,640.2 639.0,630.3 647.4,620.4C655.7,610.6 664.0,600.8 672.4,591.0C680.7,581.4 689.0,571.8 697.4,562.2C705.7,552.8 714.0,543.3 722.4,534.0C730.7,524.8 739.0,515.6 747.4,506.5C755.7,497.6 764.0,488.8 772.4,480.0C780.7,471.4 788.9,462.8 797.4,454.4C805.6,446.2 813.9,438.1 822.4,430.2C830.6,422.5 838.9,415.0 847.4,407.7C855.6,400.7 863.9,393.9 872.4,387.4C880.5,381.2 888.8,375.2 897.4,369.7C903.0,366.1 908.9,362.7 915.0,360.0C923.1,356.5 931.6,354.0 940.0,351.2C948.3,348.6 956.6,346.1 965.0,343.8C973.3,341.5 981.7,339.6 990.0,337.5C998.3,335.4 1006.6,332.9 1015.0,331.2C1023.3,329.6 1031.6,328.4 1040.0,327.5C1046.6,326.8 1053.3,325.6 1060.0,326.2C1062.8,326.5 1065.3,328.3 1067.5,330.0C1073.6,334.6 1078.8,340.4 1085.0,345.0C1089.7,348.5 1095.1,350.9 1100.0,354.0C1104.3,356.7 1107.9,360.4 1112.5,362.5C1117.2,364.6 1122.6,364.8 1127.5,366.2C1132.6,367.7 1137.7,369.1 1142.5,371.2C1147.8,373.7 1152.3,377.4 1157.5,380.0C1163.2,382.8 1169.2,384.9 1175.0,387.5C1179.2,389.4 1183.9,390.8 1187.5,393.8C1192.3,397.6 1195.3,403.5 1200.0,407.5C1203.7,410.6 1208.2,412.8 1212.5,415.0C1216.5,417.0 1220.9,418.1 1225.0,420.0C1230.1,422.3 1234.8,425.3 1240.0,427.5C1244.9,429.5 1250.1,430.6 1255.0,432.5C1260.1,434.4 1265.3,436.1 1270.0,438.8C1273.7,440.8 1276.2,444.5 1280.0,446.2C1284.7,448.4 1290.0,449.0 1295.0,450.0C1300.8,451.2 1306.6,452.2 1312.5,453.0C1320.8,454.1 1329.1,455.1 1337.5,455.8C1345.8,456.4 1354.2,456.7 1362.5,457.0C1370.8,457.3 1379.2,457.3 1387.5,457.5C1395.8,457.7 1404.2,458.1 1412.5,458.0C1424.7,457.9 1436.8,457.2 1449.0,457.0C1461.5,456.8 1474.0,457.0 1486.5,456.8C1499.0,456.5 1511.5,455.9 1524.0,455.5C1536.5,455.1 1549.0,455.1 1561.5,454.5C1574.0,453.9 1586.5,453.0 1599.0,452.0C1611.5,451.0 1624.0,449.8 1636.5,448.8C1649.0,447.7 1661.5,446.5 1674.0,445.5C1686.5,444.5 1699.0,443.7 1711.5,442.5C1723.0,441.4 1734.5,439.8 1746.0,438.5"/>
</g>
<g stroke="#ff00ff" stroke-width="3.9">
<path transform="translate(-1.4 -1.4)" d="M226.0,1118.5C227.0,1117.7 227.9,1116.9 228.9,1116.0C235.9,1109.7 243.1,1103.4 250.0,1097.0C257.2,1090.3 264.5,1083.5 271.4,1076.5C276.6,1071.2 281.6,1065.6 286.5,1060.0C290.2,1055.8 293.5,1051.4 297.0,1047.0C303.6,1038.7 310.2,1030.4 316.7,1022.0C320.2,1017.4 323.7,1012.8 327.0,1008.0C351.5,972.1 376.2,936.3 400.0,900.0C423.8,863.7 447.1,827.0 470.0,790.0C490.5,756.9 510.0,723.4 530.0,690.0C542.9,668.4 555.9,646.7 568.7,625.0C582.8,601.2 596.5,577.2 610.7,553.5C621.5,535.5 633.0,518.1 643.6,500.0C648.1,492.3 651.4,483.9 656.0,476.2C663.5,463.9 672.0,452.1 680.0,440.0C693.3,420.0 706.2,399.7 720.0,380.0C729.6,366.3 739.9,353.2 750.0,340.0C758.2,329.2 766.8,318.7 775.0,308.0C783.1,297.4 790.8,286.5 799.0,276.0C807.0,265.8 814.9,255.5 823.5,245.8C834.1,233.9 845.3,222.7 856.5,211.4C863.7,204.1 870.9,196.9 878.5,190.0C886.4,182.8 894.9,176.1 903.0,169.0C906.3,166.1 909.4,162.8 912.8,160.0C921.7,152.7 930.5,145.3 940.0,138.8C948.0,133.2 956.3,128.1 965.0,123.8C973.0,119.7 981.5,116.6 990.0,113.8C998.2,111.0 1006.5,108.7 1015.0,107.0C1020.8,105.8 1026.6,105.0 1032.5,105.0C1038.4,105.0 1044.2,106.1 1050.0,107.0C1056.7,108.0 1063.4,109.0 1070.0,110.5C1075.1,111.7 1080.2,113.1 1085.0,115.0C1090.2,117.1 1095.4,119.4 1100.0,122.5C1104.6,125.7 1108.9,129.4 1112.5,133.8C1117.3,139.5 1121.7,145.7 1125.0,152.5C1128.4,159.6 1130.3,167.4 1132.5,175.0C1134.9,183.3 1136.7,191.7 1138.8,200.0C1140.8,208.3 1142.7,216.7 1145.0,225.0C1147.3,233.4 1149.4,241.9 1152.5,250.0C1154.5,255.2 1157.1,260.2 1160.0,265.0C1163.8,271.1 1168.7,276.4 1172.5,282.5C1175.4,287.3 1177.7,292.4 1180.0,297.5C1182.7,303.3 1184.7,309.3 1187.5,315.0C1190.5,321.0 1193.8,326.9 1197.5,332.5C1200.5,336.9 1203.9,341.0 1207.5,345.0C1211.4,349.4 1215.6,353.6 1220.0,357.5C1224.0,361.1 1227.9,364.8 1232.5,367.5C1236.3,369.8 1240.6,371.4 1245.0,372.5C1250.7,373.9 1256.6,374.4 1262.5,375.0C1268.3,375.6 1274.2,376.1 1280.0,376.2C1286.7,376.5 1293.3,376.4 1300.0,376.2C1308.0,376.0 1316.0,375.4 1324.0,375.0C1332.3,374.6 1340.7,374.3 1349.0,373.8C1357.3,373.2 1365.7,372.3 1374.0,371.5C1382.3,370.7 1390.7,369.9 1399.0,369.0C1407.3,368.1 1415.7,367.1 1424.0,366.2C1432.3,365.3 1440.7,364.4 1449.0,363.5C1457.3,362.6 1465.7,361.8 1474.0,361.0C1482.3,360.3 1490.7,359.7 1499.0,359.0C1507.3,358.3 1515.7,357.8 1524.0,357.0C1532.4,356.2 1540.7,355.0 1549.0,354.0C1557.3,353.0 1565.7,352.1 1574.0,351.0C1582.3,349.9 1590.7,348.6 1599.0,347.5C1607.3,346.4 1615.7,345.7 1624.0,344.5C1632.4,343.3 1640.7,341.8 1649.0,340.5C1657.3,339.3 1665.7,338.2 1674.0,337.0C1682.3,335.7 1690.6,334.2 1699.0,333.0C1707.3,331.8 1715.7,331.1 1724.0,330.0C1731.3,329.1 1738.7,328.0 1746.0,327.0"/>
<path transform="translate(1.4 -1.4)" d="M226.0,1118.5C227.0,1117.7 227.9,1116.9 228.9,1116.0C235.9,1109.7 243.1,1103.4 250.0,1097.0C257.2,1090.3 264.5,1083.5 271.4,1076.5C276.6,1071.2 281.6,1065.6 286.5,1060.0C290.2,1055.8 293.5,1051.4 297.0,1047.0C303.6,1038.7 310.2,1030.4 316.7,1022.0C320.2,1017.4 323.7,1012.8 327.0,1008.0C351.5,972.1 376.2,936.3 400.0,900.0C423.8,863.7 447.1,827.0 470.0,790.0C490.5,756.9 510.0,723.4 530.0,690.0C542.9,668.4 555.9,646.7 568.7,625.0C582.8,601.2 596.5,577.2 610.7,553.5C621.5,535.5 633.0,518.1 643.6,500.0C648.1,492.3 651.4,483.9 656.0,476.2C663.5,463.9 672.0,452.1 680.0,440.0C693.3,420.0 706.2,399.7 720.0,380.0C729.6,366.3 739.9,353.2 750.0,340.0C758.2,329.2 766.8,318.7 775.0,308.0C783.1,297.4 790.8,286.5 799.0,276.0C807.0,265.8 814.9,255.5 823.5,245.8C834.1,233.9 845.3,222.7 856.5,211.4C863.7,204.1 870.9,196.9 878.5,190.0C886.4,182.8 894.9,176.1 903.0,169.0C906.3,166.1 909.4,162.8 912.8,160.0C921.7,152.7 930.5,145.3 940.0,138.8C948.0,133.2 956.3,128.1 965.0,123.8C973.0,119.7 981.5,116.6 990.0,113.8C998.2,111.0 1006.5,108.7 1015.0,107.0C1020.8,105.8 1026.6,105.0 1032.5,105.0C1038.4,105.0 1044.2,106.1 1050.0,107.0C1056.7,108.0 1063.4,109.0 1070.0,110.5C1075.1,111.7 1080.2,113.1 1085.0,115.0C1090.2,117.1 1095.4,119.4 1100.0,122.5C1104.6,125.7 1108.9,129.4 1112.5,133.8C1117.3,139.5 1121.7,145.7 1125.0,152.5C1128.4,159.6 1130.3,167.4 1132.5,175.0C1134.9,183.3 1136.7,191.7 1138.8,200.0C1140.8,208.3 1142.7,216.7 1145.0,225.0C1147.3,233.4 1149.4,241.9 1152.5,250.0C1154.5,255.2 1157.1,260.2 1160.0,265.0C1163.8,271.1 1168.7,276.4 1172.5,282.5C1175.4,287.3 1177.7,292.4 1180.0,297.5C1182.7,303.3 1184.7,309.3 1187.5,315.0C1190.5,321.0 1193.8,326.9 1197.5,332.5C1200.5,336.9 1203.9,341.0 1207.5,345.0C1211.4,349.4 1215.6,353.6 1220.0,357.5C1224.0,361.1 1227.9,364.8 1232.5,367.5C1236.3,369.8 1240.6,371.4 1245.0,372.5C1250.7,373.9 1256.6,374.4 1262.5,375.0C1268.3,375.6 1274.2,376.1 1280.0,376.2C1286.7,376.5 1293.3,376.4 1300.0,376.2C1308.0,376.0 1316.0,375.4 1324.0,375.0C1332.3,374.6 1340.7,374.3 1349.0,373.8C1357.3,373.2 1365.7,372.3 1374.0,371.5C1382.3,370.7 1390.7,369.9 1399.0,369.0C1407.3,368.1 1415.7,367.1 1424.0,366.2C1432.3,365.3 1440.7,364.4 1449.0,363.5C1457.3,362.6 1465.7,361.8 1474.0,361.0C1482.3,360.3 1490.7,359.7 1499.0,359.0C1507.3,358.3 1515.7,357.8 1524.0,357.0C1532.4,356.2 1540.7,355.0 1549.0,354.0C1557.3,353.0 1565.7,352.1 1574.0,351.0C1582.3,349.9 1590.7,348.6 1599.0,347.5C1607.3,346.4 1615.7,345.7 1624.0,344.5C1632.4,343.3 1640.7,341.8 1649.0,340.5C1657.3,339.3 1665.7,338.2 1674.0,337.0C1682.3,335.7 1690.6,334.2 1699.0,333.0C1707.3,331.8 1715.7,331.1 1724.0,330.0C1731.3,329.1 1738.7,328.0 1746.0,327.0"/>
<path transform="translate(-1.4 1.4)" d="M226.0,1118.5C227.0,1117.7 227.9,1116.9 228.9,1116.0C235.9,1109.7 243.1,1103.4 250.0,1097.0C257.2,1090.3 264.5,1083.5 271.4,1076.5C276.6,1071.2 281.6,1065.6 286.5,1060.0C290.2,1055.8 293.5,1051.4 297.0,1047.0C303.6,1038.7 310.2,1030.4 316.7,1022.0C320.2,1017.4 323.7,1012.8 327.0,1008.0C351.5,972.1 376.2,936.3 400.0,900.0C423.8,863.7 447.1,827.0 470.0,790.0C490.5,756.9 510.0,723.4 530.0,690.0C542.9,668.4 555.9,646.7 568.7,625.0C582.8,601.2 596.5,577.2 610.7,553.5C621.5,535.5 633.0,518.1 643.6,500.0C648.1,492.3 651.4,483.9 656.0,476.2C663.5,463.9 672.0,452.1 680.0,440.0C693.3,420.0 706.2,399.7 720.0,380.0C729.6,366.3 739.9,353.2 750.0,340.0C758.2,329.2 766.8,318.7 775.0,308.0C783.1,297.4 790.8,286.5 799.0,276.0C807.0,265.8 814.9,255.5 823.5,245.8C834.1,233.9 845.3,222.7 856.5,211.4C863.7,204.1 870.9,196.9 878.5,190.0C886.4,182.8 894.9,176.1 903.0,169.0C906.3,166.1 909.4,162.8 912.8,160.0C921.7,152.7 930.5,145.3 940.0,138.8C948.0,133.2 956.3,128.1 965.0,123.8C973.0,119.7 981.5,116.6 990.0,113.8C998.2,111.0 1006.5,108.7 1015.0,107.0C1020.8,105.8 1026.6,105.0 1032.5,105.0C1038.4,105.0 1044.2,106.1 1050.0,107.0C1056.7,108.0 1063.4,109.0 1070.0,110.5C1075.1,111.7 1080.2,113.1 1085.0,115.0C1090.2,117.1 1095.4,119.4 1100.0,122.5C1104.6,125.7 1108.9,129.4 1112.5,133.8C1117.3,139.5 1121.7,145.7 1125.0,152.5C1128.4,159.6 1130.3,167.4 1132.5,175.0C1134.9,183.3 1136.7,191.7 1138.8,200.0C1140.8,208.3 1142.7,216.7 1145.0,225.0C1147.3,233.4 1149.4,241.9 1152.5,250.0C1154.5,255.2 1157.1,260.2 1160.0,265.0C1163.8,271.1 1168.7,276.4 1172.5,282.5C1175.4,287.3 1177.7,292.4 1180.0,297.5C1182.7,303.3 1184.7,309.3 1187.5,315.0C1190.5,321.0 1193.8,326.9 1197.5,332.5C1200.5,336.9 1203.9,341.0 1207.5,345.0C1211.4,349.4 1215.6,353.6 1220.0,357.5C1224.0,361.1 1227.9,364.8 1232.5,367.5C1236.3,369.8 1240.6,371.4 1245.0,372.5C1250.7,373.9 1256.6,374.4 1262.5,375.0C1268.3,375.6 1274.2,376.1 1280.0,376.2C1286.7,376.5 1293.3,376.4 1300.0,376.2C1308.0,376.0 1316.0,375.4 1324.0,375.0C1332.3,374.6 1340.7,374.3 1349.0,373.8C1357.3,373.2 1365.7,372.3 1374.0,371.5C1382.3,370.7 1390.7,369.9 1399.0,369.0C1407.3,368.1 1415.7,367.1 1424.0,366.2C1432.3,365.3 1440.7,364.4 1449.0,363.5C1457.3,362.6 1465.7,361.8 1474.0,361.0C1482.3,360.3 1490.7,359.7 1499.0,359.0C1507.3,358.3 1515.7,357.8 1524.0,357.0C1532.4,356.2 1540.7,355.0 1549.0,354.0C1557.3,353.0 1565.7,352.1 1574.0,351.0C1582.3,349.9 1590.7,348.6 1599.0,347.5C1607.3,346.4 1615.7,345.7 1624.0,344.5C1632.4,343.3 1640.7,341.8 1649.0,340.5C1657.3,339.3 1665.7,338.2 1674.0,337.0C1682.3,335.7 1690.6,334.2 1699.0,333.0C1707.3,331.8 1715.7,331.1 1724.0,330.0C1731.3,329.1 1738.7,328.0 1746.0,327.0"/>
<path transform="translate(1.4 1.4)" d="M226.0,1118.5C227.0,1117.7 227.9,1116.9 228.9,1116.0C235.9,1109.7 243.1,1103.4 250.0,1097.0C257.2,1090.3 264.5,1083.5 271.4,1076.5C276.6,1071.2 281.6,1065.6 286.5,1060.0C290.2,1055.8 293.5,1051.4 297.0,1047.0C303.6,1038.7 310.2,1030.4 316.7,1022.0C320.2,1017.4 323.7,1012.8 327.0,1008.0C351.5,972.1 376.2,936.3 400.0,900.0C423.8,863.7 447.1,827.0 470.0,790.0C490.5,756.9 510.0,723.4 530.0,690.0C542.9,668.4 555.9,646.7 568.7,625.0C582.8,601.2 596.5,577.2 610.7,553.5C621.5,535.5 633.0,518.1 643.6,500.0C648.1,492.3 651.4,483.9 656.0,476.2C663.5,463.9 672.0,452.1 680.0,440.0C693.3,420.0 706.2,399.7 720.0,380.0C729.6,366.3 739.9,353.2 750.0,340.0C758.2,329.2 766.8,318.7 775.0,308.0C783.1,297.4 790.8,286.5 799.0,276.0C807.0,265.8 814.9,255.5 823.5,245.8C834.1,233.9 845.3,222.7 856.5,211.4C863.7,204.1 870.9,196.9 878.5,190.0C886.4,182.8 894.9,176.1 903.0,169.0C906.3,166.1 909.4,162.8 912.8,160.0C921.7,152.7 930.5,145.3 940.0,138.8C948.0,133.2 956.3,128.1 965.0,123.8C973.0,119.7 981.5,116.6 990.0,113.8C998.2,111.0 1006.5,108.7 1015.0,107.0C1020.8,105.8 1026.6,105.0 1032.5,105.0C1038.4,105.0 1044.2,106.1 1050.0,107.0C1056.7,108.0 1063.4,109.0 1070.0,110.5C1075.1,111.7 1080.2,113.1 1085.0,115.0C1090.2,117.1 1095.4,119.4 1100.0,122.5C1104.6,125.7 1108.9,129.4 1112.5,133.8C1117.3,139.5 1121.7,145.7 1125.0,152.5C1128.4,159.6 1130.3,167.4 1132.5,175.0C1134.9,183.3 1136.7,191.7 1138.8,200.0C1140.8,208.3 1142.7,216.7 1145.0,225.0C1147.3,233.4 1149.4,241.9 1152.5,250.0C1154.5,255.2 1157.1,260.2 1160.0,265.0C1163.8,271.1 1168.7,276.4 1172.5,282.5C1175.4,287.3 1177.7,292.4 1180.0,297.5C1182.7,303.3 1184.7,309.3 1187.5,315.0C1190.5,321.0 1193.8,326.9 1197.5,332.5C1200.5,336.9 1203.9,341.0 1207.5,345.0C1211.4,349.4 1215.6,353.6 1220.0,357.5C1224.0,361.1 1227.9,364.8 1232.5,367.5C1236.3,369.8 1240.6,371.4 1245.0,372.5C1250.7,373.9 1256.6,374.4 1262.5,375.0C1268.3,375.6 1274.2,376.1 1280.0,376.2C1286.7,376.5 1293.3,376.4 1300.0,376.2C1308.0,376.0 1316.0,375.4 1324.0,375.0C1332.3,374.6 1340.7,374.3 1349.0,373.8C1357.3,373.2 1365.7,372.3 1374.0,371.5C1382.3,370.7 1390.7,369.9 1399.0,369.0C1407.3,368.1 1415.7,367.1 1424.0,366.2C1432.3,365.3 1440.7,364.4 1449.0,363.5C1457.3,362.6 1465.7,361.8 1474.0,361.0C1482.3,360.3 1490.7,359.7 1499.0,359.0C1507.3,358.3 1515.7,357.8 1524.0,357.0C1532.4,356.2 1540.7,355.0 1549.0,354.0C1557.3,353.0 1565.7,352.1 1574.0,351.0C1582.3,349.9 1590.7,348.6 1599.0,347.5C1607.3,346.4 1615.7,345.7 1624.0,344.5C1632.4,343.3 1640.7,341.8 1649.0,340.5C1657.3,339.3 1665.7,338.2 1674.0,337.0C1682.3,335.7 1690.6,334.2 1699.0,333.0C1707.3,331.8 1715.7,331.1 1724.0,330.0C1731.3,329.1 1738.7,328.0 1746.0,327.0"/>
</g>
<line stroke="#0000ff" stroke-width="13.6" stroke-linecap="butt" x1="215.62" y1="1190" x2="969.26" y2="0"/>
</g>
<text class="sans" font-size="44" transform="translate(194.60 1180.00) scale(0.9870 1.0410)" text-anchor="end" stroke="#000" stroke-width="0.5" stroke-linejoin="round">0</text>
<text class="sans" font-size="44" transform="translate(194.60 1027.00) scale(0.9870 1.0410)" text-anchor="end" stroke="#000" stroke-width="0.5" stroke-linejoin="round">200</text>
<text class="sans" font-size="44" transform="translate(194.60 872.82) scale(0.9870 1.0410)" text-anchor="end" stroke="#000" stroke-width="0.5" stroke-linejoin="round">400</text>
<text class="sans" font-size="44" transform="translate(194.60 719.28) scale(0.9870 1.0410)" text-anchor="end" stroke="#000" stroke-width="0.5" stroke-linejoin="round">600</text>
<text class="sans" font-size="44" transform="translate(194.60 565.74) scale(0.9870 1.0410)" text-anchor="end" stroke="#000" stroke-width="0.5" stroke-linejoin="round">800</text>
<text class="sans" font-size="44" transform="translate(194.60 411.90) scale(0.9870 1.0410)" text-anchor="end" stroke="#000" stroke-width="0.5" stroke-linejoin="round">1000</text>
<text class="sans" font-size="44" transform="translate(194.60 258.66) scale(0.9870 1.0410)" text-anchor="end" stroke="#000" stroke-width="0.5" stroke-linejoin="round">1200</text>
<text class="sans" font-size="44" transform="translate(194.60 105.12) scale(0.9870 1.0410)" text-anchor="end" stroke="#000" stroke-width="0.5" stroke-linejoin="round">1400</text>
<text class="sans" font-size="44" transform="translate(230.20 1238.50) scale(0.9870 1.0410)" text-anchor="middle" stroke="#000" stroke-width="0.5" stroke-linejoin="round">0.0</text>
<text class="sans" font-size="44" transform="translate(565.70 1238.50) scale(0.9870 1.0410)" text-anchor="middle" stroke="#000" stroke-width="0.5" stroke-linejoin="round">0.2</text>
<text class="sans" font-size="44" transform="translate(901.20 1238.50) scale(0.9870 1.0410)" text-anchor="middle" stroke="#000" stroke-width="0.5" stroke-linejoin="round">0.4</text>
<text class="sans" font-size="44" transform="translate(1236.70 1238.50) scale(0.9870 1.0410)" text-anchor="middle" stroke="#000" stroke-width="0.5" stroke-linejoin="round">0.6</text>
<text class="sans" font-size="44" transform="translate(1572.20 1238.50) scale(0.9870 1.0410)" text-anchor="middle" stroke="#000" stroke-width="0.5" stroke-linejoin="round">0.8</text>
<text class="sans" font-size="53.5" transform="translate(1016.00 1312.60) scale(0.9980 1.0120)" text-anchor="middle" stroke="#000" stroke-width="0.8" stroke-linejoin="round">Deflection [mm]</text>
<text class="sans" font-size="54" transform="translate(59.10 533.30) rotate(-90) scale(1.0150 1.0150)" text-anchor="middle" stroke="#000" stroke-width="0.8" stroke-linejoin="round">Load [N]</text>
<line x1="1136.5" y1="721.9" x2="1255.5" y2="721.9" stroke="#000000" stroke-width="6.8" stroke-linecap="round"/>
<text class="sans" font-size="53.6" transform="translate(1270.20 739.90) scale(0.9940 1.0410)" text-anchor="start" stroke="#000" stroke-width="0.55" stroke-linejoin="round">S-50%-20°C-D-1</text>
<line x1="1136.5" y1="788.6" x2="1255.5" y2="788.6" stroke="#00ff00" stroke-width="6.8" stroke-linecap="round"/>
<text class="sans" font-size="53.6" transform="translate(1270.20 806.65) scale(0.9940 1.0410)" text-anchor="start" stroke="#000" stroke-width="0.55" stroke-linejoin="round">S-50%-20°C-D-2</text>
<line x1="1136.5" y1="855.4" x2="1255.5" y2="855.4" stroke="#ff0000" stroke-width="6.8" stroke-linecap="round"/>
<text class="sans" font-size="53.6" transform="translate(1270.20 873.40) scale(0.9940 1.0410)" text-anchor="start" stroke="#000" stroke-width="0.55" stroke-linejoin="round">S-50%-20°C-D-3</text>
<line x1="1136.5" y1="922.1" x2="1255.5" y2="922.1" stroke="#9400ff" stroke-width="6.8" stroke-linecap="round"/>
<text class="sans" font-size="53.6" transform="translate(1270.20 940.15) scale(0.9940 1.0410)" text-anchor="start" stroke="#000" stroke-width="0.55" stroke-linejoin="round">S-50%-20°C-D-4</text>
<line x1="1136.5" y1="988.9" x2="1255.5" y2="988.9" stroke="#ff00ff" stroke-width="6.8" stroke-linecap="round"/>
<text class="sans" font-size="53.6" transform="translate(1270.20 1006.90) scale(0.9940 1.0410)" text-anchor="start" stroke="#000" stroke-width="0.55" stroke-linejoin="round">S-50%-20°C-D-5</text>
<line x1="1137.6" y1="1055.7" x2="1255.4" y2="1055.7" stroke="#0000ff" stroke-width="13" stroke-linecap="round"/>
<text class="sans" font-size="53.6" transform="translate(1270.20 1073.65) scale(0.9940 1.0410)" text-anchor="start" stroke="#000" stroke-width="0.55" stroke-linejoin="round">FEM</text>
<text class="serif" font-size="88" x="555.6" y="1431.4" letter-spacing="-1.2">(<tspan font-weight="bold">c</tspan>) <tspan x="666.8" letter-spacing="-2.3">S-50%-20</tspan> <tspan x="1025.2" letter-spacing="-0.5">°C-D</tspan></text>
</svg>
</body></html>
